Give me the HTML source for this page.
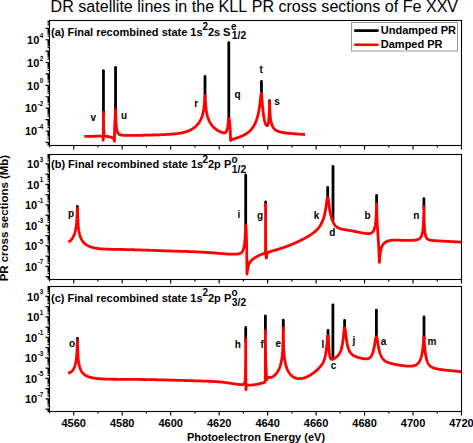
<!DOCTYPE html><html><head><meta charset="utf-8"><style>html,body{margin:0;padding:0;background:#fff;width:473px;height:443px;overflow:hidden}text{font-kerning:none}</style></head><body><svg width="473" height="443" viewBox="0 0 473 443" style="position:absolute;left:0;top:0">
<rect width="473" height="443" fill="#fff"/>
<g>
<text x="50.6" y="11.6" style="font-family:'Liberation Sans',sans-serif;font-size:16.08px" fill="#000">DR satellite lines in the KLL PR cross sections of Fe XXV</text>
<clipPath id="clipa"><rect x="49.5" y="20.5" width="412.0" height="125.0"/></clipPath>
<g clip-path="url(#clipa)">
<path d="M103.45 70.60V114.20M115.55 67.30V111.60M205.00 76.50V97.50M228.80 42.60V120.50M261.45 81.30V95.40M269.55 100.70V103.60" stroke="#000" stroke-width="2.8" fill="none" stroke-linecap="round"/>
<path d="M84.30 136.32 84.55 136.32 84.80 136.33 85.05 136.33 85.30 136.33 85.55 136.33 85.80 136.33 86.05 136.33 86.30 136.33 86.55 136.34 86.80 136.34 87.05 136.34 87.30 136.34 87.55 136.34 87.80 136.34 88.05 136.34 88.30 136.34 88.55 136.34 88.80 136.34 89.05 136.34 89.30 136.34 89.55 136.33 89.80 136.33 90.05 136.33 90.30 136.33 90.55 136.33 90.80 136.33 91.05 136.32 91.30 136.32 91.55 136.32 91.80 136.31 92.05 136.31 92.30 136.31 92.55 136.30 92.80 136.30 93.05 136.29 93.30 136.29 93.55 136.28 93.80 136.28 94.05 136.27 94.30 136.27 94.55 136.26 94.80 136.26 95.05 136.26 95.30 136.25 95.55 136.25 95.80 136.24 96.05 136.24 96.30 136.23 96.55 136.23 96.80 136.22 97.05 136.22 97.30 136.21 97.55 136.21 97.80 136.21 98.05 136.20 98.30 136.20 98.55 136.19 98.80 136.19 99.05 136.19 99.30 136.19 99.55 136.19 99.80 136.18 100.05 136.18 100.30 136.18 100.55 136.18 100.80 136.18 101.05 136.19 101.30 136.19 101.45 136.19 101.55 136.19 101.70 136.20 101.80 136.20 101.95 136.21 102.05 136.21 102.20 136.23 102.30 136.24 102.45 136.27 102.55 136.30 102.60 136.32 102.75 136.43 102.80 136.50 102.85 136.59 102.95 136.91 103.00 137.21 103.05 137.70 103.10 138.47 103.15 139.49 103.20 140.07 103.25 139.49 103.30 138.47 103.35 137.69 103.40 137.14 103.45 112.21 103.55 121.91 103.65 127.51 103.80 131.44 103.95 133.30 104.05 134.02 104.15 134.52 104.20 134.71 104.30 135.01 104.45 135.33 104.55 135.48 104.70 135.65 104.80 135.74 104.95 135.84 105.05 135.90 105.30 136.01 105.45 136.06 105.55 136.09 105.80 136.15 106.05 136.21 106.30 136.26 106.55 136.30 106.80 136.35 107.05 136.39 107.30 136.44 107.55 136.48 107.80 136.53 108.05 136.58 108.30 136.63 108.55 136.68 108.80 136.73 109.05 136.78 109.30 136.84 109.55 136.90 109.80 136.96 110.05 137.02 110.30 137.08 110.55 137.15 110.80 137.21 111.05 137.28 111.30 137.35 111.55 137.43 111.80 137.51 112.05 137.59 112.30 137.68 112.55 137.79 112.80 137.91 112.90 137.97 113.05 138.06 113.30 138.26 113.40 138.36 113.55 138.54 113.80 138.95 114.05 139.57 114.20 140.13 114.30 140.60 114.35 140.88 114.40 141.20 114.45 139.85 114.50 137.10 114.55 134.02 114.60 131.25 114.75 125.57 114.80 124.26 114.85 123.11 115.00 120.07 115.05 119.10 115.20 116.06 115.30 113.86 115.35 112.72 115.40 111.62 115.45 110.64 115.55 109.61 115.65 111.90 115.75 115.42 115.80 116.96 115.90 119.53 116.05 122.43 116.25 125.18 116.30 125.73 116.55 127.94 116.80 129.52 117.05 130.68 117.30 131.56 117.55 132.24 117.80 132.78 118.05 133.20 118.30 133.54 118.55 133.81 118.80 134.04 119.05 134.23 119.30 134.38 119.55 134.52 119.80 134.63 120.05 134.72 120.30 134.81 120.55 134.88 120.80 134.94 121.05 134.99 121.30 135.04 121.55 135.08 121.80 135.11 122.05 135.15 122.30 135.17 122.55 135.20 122.80 135.22 123.05 135.24 123.30 135.26 123.55 135.28 123.80 135.29 124.05 135.31 124.30 135.32 124.55 135.33 124.80 135.34 125.05 135.35 125.30 135.36 125.55 135.37 125.80 135.38 126.05 135.38 126.30 135.39 126.55 135.39 126.80 135.40 127.05 135.40 127.30 135.40 127.55 135.41 127.80 135.41 128.05 135.41 128.30 135.41 128.55 135.41 128.80 135.41 129.05 135.42 129.30 135.42 129.55 135.42 129.80 135.42 130.05 135.42 130.30 135.42 130.55 135.42 130.80 135.41 131.05 135.41 131.30 135.41 131.55 135.41 131.80 135.41 132.05 135.41 132.30 135.41 132.55 135.40 132.80 135.40 133.05 135.40 133.30 135.40 133.55 135.40 133.80 135.39 134.05 135.39 134.30 135.39 134.55 135.39 134.80 135.38 135.05 135.38 135.30 135.38 135.55 135.37 135.80 135.37 136.05 135.37 136.30 135.36 136.55 135.36 136.80 135.36 137.05 135.35 137.30 135.35 137.55 135.35 137.80 135.34 138.05 135.34 138.30 135.34 138.55 135.33 138.80 135.33 139.05 135.32 139.30 135.32 139.55 135.32 139.80 135.31 140.05 135.31 140.30 135.30 140.55 135.30 140.80 135.29 141.05 135.29 141.30 135.28 141.55 135.28 141.80 135.27 142.05 135.27 142.30 135.27 142.55 135.26 142.80 135.26 143.05 135.25 143.30 135.25 143.55 135.24 143.80 135.24 144.05 135.23 144.30 135.23 144.55 135.22 144.80 135.21 145.05 135.21 145.30 135.20 145.55 135.20 145.80 135.19 146.05 135.19 146.30 135.18 146.55 135.18 146.80 135.17 147.05 135.16 147.30 135.16 147.55 135.15 147.80 135.14 148.05 135.14 148.30 135.13 148.55 135.13 148.80 135.12 149.05 135.11 149.30 135.11 149.55 135.10 149.80 135.09 150.05 135.08 150.30 135.08 150.55 135.07 150.80 135.06 151.05 135.06 151.30 135.05 151.55 135.04 151.80 135.03 152.05 135.03 152.30 135.02 152.55 135.01 152.80 135.00 153.05 134.99 153.30 134.99 153.55 134.98 153.80 134.97 154.05 134.96 154.30 134.95 154.55 134.95 154.80 134.94 155.05 134.93 155.30 134.92 155.55 134.91 155.80 134.90 156.05 134.89 156.30 134.89 156.55 134.88 156.80 134.87 157.05 134.86 157.30 134.85 157.55 134.84 157.80 134.83 158.05 134.82 158.30 134.82 158.55 134.81 158.80 134.80 159.05 134.79 159.30 134.78 159.55 134.77 159.80 134.76 160.05 134.75 160.30 134.74 160.55 134.73 160.80 134.72 161.05 134.71 161.30 134.70 161.55 134.69 161.80 134.68 162.05 134.67 162.30 134.66 162.55 134.65 162.80 134.64 163.05 134.63 163.30 134.62 163.55 134.60 163.80 134.59 164.05 134.58 164.30 134.57 164.55 134.56 164.80 134.55 165.05 134.54 165.30 134.52 165.55 134.51 165.80 134.50 166.05 134.49 166.30 134.48 166.55 134.46 166.80 134.45 167.05 134.44 167.30 134.43 167.55 134.41 167.80 134.40 168.05 134.39 168.30 134.37 168.55 134.36 168.80 134.34 169.05 134.33 169.30 134.31 169.55 134.30 169.80 134.28 170.05 134.26 170.30 134.25 170.55 134.23 170.80 134.21 171.05 134.20 171.30 134.18 171.55 134.16 171.80 134.14 172.05 134.12 172.30 134.10 172.55 134.08 172.80 134.06 173.05 134.04 173.30 134.02 173.55 134.00 173.80 133.98 174.05 133.95 174.30 133.93 174.55 133.91 174.80 133.88 175.05 133.86 175.30 133.83 175.55 133.81 175.80 133.78 176.05 133.75 176.30 133.72 176.55 133.70 176.80 133.67 177.05 133.64 177.30 133.60 177.55 133.57 177.80 133.54 178.05 133.50 178.30 133.47 178.55 133.43 178.80 133.39 179.05 133.36 179.30 133.32 179.55 133.28 179.80 133.24 180.05 133.19 180.30 133.15 180.55 133.11 180.80 133.06 181.05 133.01 181.30 132.97 181.55 132.92 181.80 132.87 182.05 132.81 182.30 132.76 182.55 132.71 182.80 132.65 183.05 132.59 183.30 132.53 183.55 132.47 183.80 132.41 184.05 132.35 184.30 132.28 184.55 132.21 184.80 132.14 185.05 132.07 185.30 132.00 185.55 131.92 185.80 131.85 186.05 131.77 186.30 131.68 186.55 131.60 186.80 131.52 187.05 131.43 187.30 131.34 187.55 131.24 187.80 131.15 188.05 131.05 188.30 130.95 188.55 130.85 188.80 130.74 189.05 130.64 189.30 130.53 189.55 130.41 189.80 130.30 190.05 130.18 190.30 130.06 190.55 129.93 190.80 129.80 191.05 129.67 191.30 129.53 191.55 129.39 191.80 129.25 192.05 129.10 192.30 128.95 192.55 128.80 192.80 128.64 193.05 128.47 193.30 128.31 193.55 128.13 193.80 127.96 194.05 127.77 194.30 127.58 194.55 127.39 194.80 127.19 195.05 126.98 195.30 126.77 195.55 126.55 195.80 126.33 196.05 126.10 196.30 125.85 196.55 125.61 196.80 125.35 197.05 125.08 197.30 124.81 197.55 124.52 197.80 124.22 198.05 123.92 198.30 123.60 198.55 123.26 198.80 122.92 199.05 122.55 199.30 122.17 199.55 121.78 199.80 121.36 200.05 120.92 200.30 120.46 200.55 119.97 200.80 119.45 201.05 118.90 201.30 118.32 201.55 117.69 201.80 117.02 202.05 116.29 202.30 115.50 202.55 114.63 202.80 113.67 203.00 112.83 203.05 112.60 203.30 111.39 203.50 110.30 203.55 110.01 203.80 108.39 204.00 106.86 204.05 106.44 204.30 104.04 204.50 101.67 204.55 101.00 204.65 99.58 204.80 97.36 204.90 96.09 205.00 95.50 205.05 95.73 205.10 96.28 205.20 97.87 205.30 99.62 205.35 100.46 205.50 102.76 205.55 103.45 205.70 105.28 205.80 106.35 206.00 108.21 206.05 108.62 206.30 110.46 206.50 111.71 206.55 112.00 206.80 113.32 207.00 114.26 207.05 114.48 207.30 115.51 207.55 116.43 207.80 117.27 208.05 118.04 208.30 118.74 208.55 119.40 208.80 120.01 209.05 120.58 209.30 121.11 209.55 121.62 209.80 122.10 210.05 122.55 210.30 122.98 210.55 123.38 210.80 123.77 211.05 124.15 211.30 124.50 211.55 124.85 211.80 125.17 212.05 125.49 212.30 125.79 212.55 126.08 212.80 126.37 213.05 126.64 213.30 126.90 213.55 127.16 213.80 127.40 214.05 127.64 214.30 127.87 214.55 128.09 214.80 128.31 215.05 128.52 215.30 128.73 215.55 128.92 215.80 129.12 216.05 129.30 216.30 129.49 216.55 129.66 216.80 129.83 217.05 130.00 217.30 130.16 217.55 130.32 217.80 130.47 218.05 130.62 218.30 130.77 218.55 130.91 218.80 131.04 219.05 131.18 219.30 131.30 219.55 131.43 219.80 131.55 220.05 131.66 220.30 131.78 220.55 131.88 220.80 131.99 221.05 132.09 221.30 132.18 221.55 132.27 221.80 132.36 222.05 132.44 222.30 132.51 222.55 132.58 222.80 132.64 223.05 132.70 223.30 132.74 223.55 132.78 223.80 132.80 224.05 132.82 224.30 132.81 224.55 132.79 224.80 132.75 225.05 132.69 225.30 132.59 225.55 132.45 225.80 132.26 226.05 132.01 226.30 131.68 226.55 131.25 226.80 130.68 227.05 129.94 227.30 128.97 227.55 127.71 227.80 126.09 228.05 124.02 228.10 123.56 228.30 121.57 228.45 120.08 228.55 119.24 228.60 118.91 228.70 118.47 228.80 118.37 228.90 118.46 229.00 118.64 229.05 118.77 229.10 118.94 229.15 119.12 229.30 119.85 229.50 121.12 229.55 121.48 229.60 121.86 229.80 123.59 230.00 125.84 230.05 126.54 230.25 130.42 230.30 131.79 230.40 135.09 230.50 138.60 230.55 139.89 230.60 140.50 230.65 140.42 230.70 140.35 230.80 140.23 230.95 140.07 231.05 139.98 231.20 139.87 231.30 139.80 231.55 139.66 231.60 139.64 231.80 139.55 232.05 139.46 232.10 139.44 232.30 139.37 232.55 139.29 232.80 139.22 233.05 139.14 233.30 139.07 233.55 138.99 233.80 138.92 234.05 138.84 234.30 138.76 234.55 138.69 234.80 138.61 235.05 138.53 235.30 138.45 235.55 138.36 235.80 138.28 236.05 138.20 236.30 138.12 236.55 138.03 236.80 137.95 237.05 137.86 237.30 137.77 237.55 137.69 237.80 137.60 238.05 137.51 238.30 137.42 238.55 137.33 238.80 137.24 239.05 137.15 239.30 137.05 239.55 136.96 239.80 136.87 240.05 136.77 240.30 136.67 240.55 136.57 240.80 136.47 241.05 136.37 241.30 136.27 241.55 136.16 241.80 136.06 242.05 135.95 242.30 135.84 242.55 135.73 242.80 135.62 243.05 135.50 243.30 135.38 243.55 135.26 243.80 135.14 244.05 135.01 244.30 134.88 244.55 134.75 244.80 134.61 245.05 134.47 245.30 134.33 245.55 134.19 245.80 134.04 246.05 133.89 246.30 133.73 246.55 133.57 246.80 133.40 247.05 133.23 247.30 133.06 247.55 132.88 247.80 132.70 248.05 132.51 248.30 132.31 248.55 132.11 248.80 131.90 249.05 131.69 249.30 131.47 249.55 131.24 249.80 131.01 250.05 130.76 250.30 130.51 250.55 130.26 250.80 129.99 251.05 129.71 251.30 129.43 251.55 129.13 251.80 128.82 252.05 128.50 252.30 128.17 252.55 127.83 252.80 127.48 253.05 127.11 253.30 126.73 253.55 126.33 253.80 125.91 254.05 125.48 254.30 125.03 254.55 124.56 254.80 124.07 255.05 123.56 255.30 123.03 255.55 122.47 255.80 121.88 256.05 121.26 256.30 120.61 256.55 119.93 256.80 119.21 257.05 118.44 257.30 117.63 257.55 116.76 257.80 115.84 258.05 114.85 258.30 113.78 258.55 112.63 258.80 111.38 259.05 110.02 259.30 108.51 259.45 107.54 259.55 106.85 259.80 105.00 259.95 103.79 260.05 102.93 260.30 100.65 260.45 99.19 260.55 98.20 260.75 96.30 260.80 95.85 260.95 94.70 261.05 94.13 261.10 93.91 261.25 93.51 261.30 93.45 261.35 93.42 261.45 93.40 261.55 93.47 261.65 93.87 261.80 95.40 261.95 97.72 262.05 99.40 262.15 101.04 262.30 103.33 262.45 105.39 262.55 106.64 262.80 109.39 262.95 110.83 263.05 111.71 263.30 113.71 263.45 114.78 263.55 115.45 263.80 116.97 264.05 118.33 264.30 119.54 264.55 120.61 264.80 121.57 265.05 122.42 265.30 123.17 265.55 123.82 265.80 124.37 266.05 124.83 266.30 125.19 266.55 125.44 266.80 125.58 267.05 125.60 267.30 125.49 267.55 125.21 267.80 124.76 268.05 124.07 268.30 123.10 268.55 121.74 268.80 119.81 268.85 119.33 269.05 116.91 269.20 114.31 269.30 111.91 269.35 110.39 269.45 106.31 269.55 101.59 269.65 104.28 269.75 107.40 269.80 108.71 269.90 110.89 270.05 113.40 270.25 115.86 270.30 116.37 270.55 118.50 270.80 120.14 271.05 121.46 271.30 122.56 271.55 123.49 271.80 124.30 272.05 125.00 272.30 125.62 272.55 126.17 272.80 126.67 273.05 127.11 273.30 127.52 273.55 127.89 273.80 128.23 274.05 128.53 274.30 128.82 274.55 129.08 274.80 129.32 275.05 129.55 275.30 129.75 275.55 129.94 275.80 130.12 276.05 130.29 276.30 130.44 276.55 130.59 276.80 130.72 277.05 130.85 277.30 130.97 277.55 131.08 277.80 131.18 278.05 131.28 278.30 131.37 278.55 131.46 278.80 131.55 279.05 131.62 279.30 131.70 279.55 131.77 279.80 131.84 280.05 131.91 280.30 131.97 280.55 132.03 280.80 132.09 281.05 132.15 281.30 132.21 281.55 132.26 281.80 132.31 282.05 132.36 282.30 132.41 282.55 132.46 282.80 132.51 283.05 132.55 283.30 132.59 283.55 132.63 283.80 132.67 284.05 132.71 284.30 132.75 284.55 132.79 284.80 132.82 285.05 132.85 285.30 132.89 285.55 132.92 285.80 132.95 286.05 132.98 286.30 133.01 286.55 133.04 286.80 133.07 287.05 133.09 287.30 133.12 287.55 133.14 287.80 133.17 288.05 133.19 288.30 133.22 288.55 133.24 288.80 133.26 289.05 133.28 289.30 133.31 289.55 133.33 289.80 133.35 290.05 133.37 290.30 133.39 290.55 133.41 290.80 133.44 291.05 133.46 291.30 133.48 291.55 133.50 291.80 133.52 292.05 133.54 292.30 133.57 292.55 133.59 292.80 133.61 293.05 133.63 293.30 133.65 293.55 133.67 293.80 133.70 294.05 133.72 294.30 133.74 294.55 133.76 294.80 133.78 295.05 133.80 295.30 133.82 295.55 133.84 295.80 133.86 296.05 133.88 296.30 133.90 296.55 133.92 296.80 133.94 297.05 133.96 297.30 133.98 297.55 134.00 297.80 134.01 298.05 134.03 298.30 134.05 298.55 134.07 298.80 134.09 299.05 134.11 299.30 134.13 299.55 134.14 299.80 134.16 300.05 134.18 300.30 134.20 300.55 134.22 300.80 134.24 301.05 134.26 301.30 134.27 301.55 134.29 301.80 134.31 302.05 134.33 302.30 134.35 302.55 134.37 302.80 134.38 303.05 134.40 303.30 134.42 303.55 134.44 303.80 134.46 304.05 134.48 304.30 134.50 304.55 134.52 304.80 134.53 305.00 134.55" stroke="#f00" stroke-width="2.8" fill="none" stroke-linejoin="round" stroke-linecap="butt"/>
</g>
<rect x="49.5" y="20.5" width="412.0" height="125.0" fill="none" stroke="#000" stroke-width="1.1"/>
<path d="M47.50 144.93H49.5M47.50 144.17H49.5M47.50 143.51H49.5M47.50 142.92H49.5M45.50 142.40H49.5M47.50 138.97H49.5M47.50 136.96H49.5M47.50 135.53H49.5M47.50 134.42H49.5M47.50 133.52H49.5M47.50 132.76H49.5M47.50 132.10H49.5M47.50 131.51H49.5M45.50 130.99H49.5M47.50 127.56H49.5M47.50 125.55H49.5M47.50 124.12H49.5M47.50 123.01H49.5M47.50 122.11H49.5M47.50 121.35H49.5M47.50 120.69H49.5M47.50 120.10H49.5M45.50 119.58H49.5M47.50 116.15H49.5M47.50 114.14H49.5M47.50 112.71H49.5M47.50 111.60H49.5M47.50 110.70H49.5M47.50 109.94H49.5M47.50 109.28H49.5M47.50 108.69H49.5M45.50 108.17H49.5M47.50 104.74H49.5M47.50 102.73H49.5M47.50 101.30H49.5M47.50 100.19H49.5M47.50 99.29H49.5M47.50 98.53H49.5M47.50 97.87H49.5M47.50 97.28H49.5M45.50 96.76H49.5M47.50 93.33H49.5M47.50 91.32H49.5M47.50 89.89H49.5M47.50 88.78H49.5M47.50 87.88H49.5M47.50 87.12H49.5M47.50 86.46H49.5M47.50 85.87H49.5M45.50 85.35H49.5M47.50 81.92H49.5M47.50 79.91H49.5M47.50 78.48H49.5M47.50 77.37H49.5M47.50 76.47H49.5M47.50 75.71H49.5M47.50 75.05H49.5M47.50 74.46H49.5M45.50 73.94H49.5M47.50 70.51H49.5M47.50 68.50H49.5M47.50 67.07H49.5M47.50 65.96H49.5M47.50 65.06H49.5M47.50 64.30H49.5M47.50 63.64H49.5M47.50 63.05H49.5M45.50 62.53H49.5M47.50 59.10H49.5M47.50 57.09H49.5M47.50 55.66H49.5M47.50 54.55H49.5M47.50 53.65H49.5M47.50 52.89H49.5M47.50 52.23H49.5M47.50 51.64H49.5M45.50 51.12H49.5M47.50 47.69H49.5M47.50 45.68H49.5M47.50 44.25H49.5M47.50 43.14H49.5M47.50 42.24H49.5M47.50 41.48H49.5M47.50 40.82H49.5M47.50 40.23H49.5M45.50 39.71H49.5M47.50 36.28H49.5M47.50 34.27H49.5M47.50 32.84H49.5M47.50 31.73H49.5M47.50 30.83H49.5M47.50 30.07H49.5M47.50 29.41H49.5M47.50 28.82H49.5M45.50 28.30H49.5M47.50 24.87H49.5M47.50 22.86H49.5M47.50 21.43H49.5" stroke="#000" stroke-width="1.15" fill="none"/>
<path d="M49.50 145.5V147.5M73.74 145.5V149.5M97.97 145.5V147.5M122.21 145.5V149.5M146.44 145.5V147.5M170.68 145.5V149.5M194.91 145.5V147.5M219.15 145.5V149.5M243.38 145.5V147.5M267.62 145.5V149.5M291.85 145.5V147.5M316.09 145.5V149.5M340.32 145.5V147.5M364.56 145.5V149.5M388.79 145.5V147.5M413.03 145.5V149.5M437.26 145.5V147.5M461.50 145.5V149.5" stroke="#000" stroke-width="1.15" fill="none"/>
<text x="43.3" y="43.91" text-anchor="end" style="font-family:'Liberation Sans',sans-serif;font-size:11px;font-weight:bold">10<tspan font-size="6.3px" dy="-6.2" dx="0.5">4</tspan></text>
<text x="43.3" y="66.73" text-anchor="end" style="font-family:'Liberation Sans',sans-serif;font-size:11px;font-weight:bold">10<tspan font-size="6.3px" dy="-6.2" dx="0.5">2</tspan></text>
<text x="43.3" y="89.55" text-anchor="end" style="font-family:'Liberation Sans',sans-serif;font-size:11px;font-weight:bold">10<tspan font-size="6.3px" dy="-6.2" dx="0.5">0</tspan></text>
<text x="43.3" y="112.37" text-anchor="end" style="font-family:'Liberation Sans',sans-serif;font-size:11px;font-weight:bold">10<tspan font-size="6.3px" dy="-6.2" dx="0.5">-2</tspan></text>
<text x="43.3" y="135.19" text-anchor="end" style="font-family:'Liberation Sans',sans-serif;font-size:11px;font-weight:bold">10<tspan font-size="6.3px" dy="-6.2" dx="0.5">-4</tspan></text>
<clipPath id="clipb"><rect x="49.5" y="154.5" width="412.0" height="125.0"/></clipPath>
<g clip-path="url(#clipb)">
<path d="M77.40 206.40V210.20M245.70 174.90V227.30M265.60 202.00V206.00M327.70 187.40V199.60M376.60 195.40V205.30M423.90 198.60V208.80M333.00 166.40V220.00" stroke="#000" stroke-width="2.8" fill="none" stroke-linecap="round"/>
<path d="M68.40 242.00 68.65 241.86 68.90 241.71 69.15 241.56 69.40 241.39 69.65 241.21 69.90 241.02 70.15 240.82 70.40 240.60 70.65 240.37 70.90 240.13 71.15 239.86 71.40 239.58 71.65 239.29 71.90 238.97 72.15 238.62 72.40 238.26 72.65 237.87 72.90 237.45 73.15 237.00 73.40 236.51 73.65 235.99 73.90 235.42 74.15 234.80 74.40 234.12 74.65 233.38 74.90 232.56 75.15 231.65 75.40 230.63 75.65 229.46 75.90 228.11 76.15 226.50 76.40 224.55 76.65 222.06 76.70 221.47 76.90 218.66 77.05 215.88 77.15 213.56 77.20 212.26 77.30 209.59 77.40 208.20 77.50 210.50 77.60 214.08 77.65 215.63 77.75 218.22 77.90 221.18 78.10 224.08 78.15 224.68 78.40 227.20 78.65 229.17 78.90 230.77 79.15 232.12 79.40 233.28 79.65 234.29 79.90 235.19 80.15 236.00 80.40 236.73 80.65 237.39 80.90 238.00 81.15 238.56 81.40 239.08 81.65 239.56 81.90 240.00 82.15 240.42 82.40 240.81 82.65 241.17 82.90 241.52 83.15 241.84 83.40 242.15 83.65 242.43 83.90 242.71 84.15 242.97 84.40 243.21 84.65 243.44 84.90 243.66 85.15 243.88 85.40 244.08 85.65 244.27 85.90 244.45 86.15 244.63 86.40 244.80 86.65 244.96 86.90 245.12 87.15 245.27 87.40 245.41 87.65 245.55 87.90 245.68 88.15 245.81 88.40 245.93 88.65 246.05 88.90 246.17 89.15 246.28 89.40 246.38 89.65 246.49 89.90 246.59 90.15 246.68 90.40 246.78 90.65 246.87 90.90 246.95 91.15 247.04 91.40 247.12 91.65 247.19 91.90 247.27 92.15 247.34 92.40 247.41 92.65 247.48 92.90 247.54 93.15 247.60 93.40 247.67 93.65 247.73 93.90 247.78 94.15 247.84 94.40 247.90 94.65 247.95 94.90 248.00 95.15 248.05 95.40 248.10 95.65 248.15 95.90 248.20 96.15 248.24 96.40 248.29 96.65 248.33 96.90 248.37 97.15 248.41 97.40 248.45 97.65 248.49 97.90 248.52 98.15 248.56 98.40 248.59 98.65 248.62 98.90 248.66 99.15 248.69 99.40 248.71 99.65 248.74 99.90 248.77 100.15 248.79 100.40 248.81 100.65 248.84 100.90 248.86 101.15 248.88 101.40 248.90 101.65 248.92 101.90 248.93 102.15 248.95 102.40 248.97 102.65 248.98 102.90 249.00 103.15 249.01 103.40 249.03 103.65 249.04 103.90 249.05 104.15 249.07 104.40 249.08 104.65 249.09 104.90 249.10 105.15 249.11 105.40 249.12 105.65 249.13 105.90 249.14 106.15 249.15 106.40 249.16 106.65 249.17 106.90 249.18 107.15 249.18 107.40 249.19 107.65 249.20 107.90 249.21 108.15 249.22 108.40 249.22 108.65 249.23 108.90 249.24 109.15 249.25 109.40 249.25 109.65 249.26 109.90 249.27 110.15 249.27 110.40 249.28 110.65 249.28 110.90 249.29 111.15 249.29 111.40 249.30 111.65 249.30 111.90 249.31 112.15 249.31 112.40 249.32 112.65 249.32 112.90 249.33 113.15 249.33 113.40 249.34 113.65 249.34 113.90 249.34 114.15 249.35 114.40 249.35 114.65 249.36 114.90 249.36 115.15 249.37 115.40 249.37 115.65 249.37 115.90 249.38 116.15 249.38 116.40 249.39 116.65 249.39 116.90 249.40 117.15 249.40 117.40 249.41 117.65 249.41 117.90 249.42 118.15 249.42 118.40 249.43 118.65 249.43 118.90 249.44 119.15 249.44 119.40 249.44 119.65 249.45 119.90 249.45 120.15 249.46 120.40 249.46 120.65 249.47 120.90 249.47 121.15 249.47 121.40 249.48 121.65 249.48 121.90 249.49 122.15 249.49 122.40 249.50 122.65 249.50 122.90 249.50 123.15 249.51 123.40 249.51 123.65 249.52 123.90 249.52 124.15 249.52 124.40 249.53 124.65 249.53 124.90 249.54 125.15 249.54 125.40 249.54 125.65 249.55 125.90 249.55 126.15 249.56 126.40 249.56 126.65 249.57 126.90 249.57 127.15 249.58 127.40 249.59 127.65 249.59 127.90 249.60 128.15 249.60 128.40 249.61 128.65 249.61 128.90 249.62 129.15 249.63 129.40 249.63 129.65 249.64 129.90 249.65 130.15 249.65 130.40 249.66 130.65 249.67 130.90 249.67 131.15 249.68 131.40 249.69 131.65 249.69 131.90 249.70 132.15 249.70 132.40 249.71 132.65 249.72 132.90 249.72 133.15 249.73 133.40 249.74 133.65 249.74 133.90 249.75 134.15 249.76 134.40 249.77 134.65 249.77 134.90 249.78 135.15 249.79 135.40 249.80 135.65 249.80 135.90 249.81 136.15 249.82 136.40 249.83 136.65 249.83 136.90 249.84 137.15 249.85 137.40 249.86 137.65 249.87 137.90 249.88 138.15 249.88 138.40 249.89 138.65 249.90 138.90 249.91 139.15 249.92 139.40 249.93 139.65 249.93 139.90 249.94 140.15 249.95 140.40 249.96 140.65 249.97 140.90 249.98 141.15 249.98 141.40 249.99 141.65 250.00 141.90 250.01 142.15 250.02 142.40 250.03 142.65 250.04 142.90 250.04 143.15 250.05 143.40 250.06 143.65 250.07 143.90 250.08 144.15 250.09 144.40 250.10 144.65 250.11 144.90 250.12 145.15 250.13 145.40 250.13 145.65 250.14 145.90 250.15 146.15 250.16 146.40 250.17 146.65 250.18 146.90 250.19 147.15 250.20 147.40 250.21 147.65 250.22 147.90 250.23 148.15 250.24 148.40 250.24 148.65 250.25 148.90 250.26 149.15 250.27 149.40 250.28 149.65 250.29 149.90 250.30 150.15 250.31 150.40 250.32 150.65 250.33 150.90 250.34 151.15 250.35 151.40 250.35 151.65 250.36 151.90 250.37 152.15 250.38 152.40 250.39 152.65 250.40 152.90 250.41 153.15 250.42 153.40 250.43 153.65 250.44 153.90 250.45 154.15 250.46 154.40 250.47 154.65 250.48 154.90 250.48 155.15 250.49 155.40 250.50 155.65 250.51 155.90 250.52 156.15 250.53 156.40 250.54 156.65 250.55 156.90 250.56 157.15 250.56 157.40 250.57 157.65 250.58 157.90 250.59 158.15 250.60 158.40 250.61 158.65 250.61 158.90 250.62 159.15 250.63 159.40 250.64 159.65 250.65 159.90 250.66 160.15 250.66 160.40 250.67 160.65 250.68 160.90 250.69 161.15 250.70 161.40 250.71 161.65 250.71 161.90 250.72 162.15 250.73 162.40 250.74 162.65 250.75 162.90 250.75 163.15 250.76 163.40 250.77 163.65 250.78 163.90 250.79 164.15 250.79 164.40 250.80 164.65 250.81 164.90 250.82 165.15 250.82 165.40 250.83 165.65 250.84 165.90 250.85 166.15 250.86 166.40 250.86 166.65 250.87 166.90 250.88 167.15 250.89 167.40 250.89 167.65 250.90 167.90 250.91 168.15 250.92 168.40 250.92 168.65 250.93 168.90 250.94 169.15 250.94 169.40 250.95 169.65 250.96 169.90 250.97 170.15 250.97 170.40 250.98 170.65 250.99 170.90 251.00 171.15 251.00 171.40 251.01 171.65 251.02 171.90 251.03 172.15 251.03 172.40 251.04 172.65 251.05 172.90 251.06 173.15 251.06 173.40 251.07 173.65 251.08 173.90 251.09 174.15 251.09 174.40 251.10 174.65 251.11 174.90 251.12 175.15 251.12 175.40 251.13 175.65 251.14 175.90 251.15 176.15 251.15 176.40 251.16 176.65 251.17 176.90 251.18 177.15 251.18 177.40 251.19 177.65 251.20 177.90 251.21 178.15 251.21 178.40 251.22 178.65 251.23 178.90 251.24 179.15 251.24 179.40 251.25 179.65 251.26 179.90 251.27 180.15 251.28 180.40 251.28 180.65 251.29 180.90 251.30 181.15 251.31 181.40 251.31 181.65 251.32 181.90 251.33 182.15 251.34 182.40 251.35 182.65 251.35 182.90 251.36 183.15 251.37 183.40 251.38 183.65 251.39 183.90 251.39 184.15 251.40 184.40 251.41 184.65 251.42 184.90 251.43 185.15 251.44 185.40 251.44 185.65 251.45 185.90 251.46 186.15 251.47 186.40 251.48 186.65 251.49 186.90 251.50 187.15 251.50 187.40 251.51 187.65 251.52 187.90 251.53 188.15 251.54 188.40 251.55 188.65 251.56 188.90 251.57 189.15 251.58 189.40 251.59 189.65 251.60 189.90 251.61 190.15 251.62 190.40 251.63 190.65 251.64 190.90 251.64 191.15 251.65 191.40 251.66 191.65 251.67 191.90 251.69 192.15 251.70 192.40 251.71 192.65 251.72 192.90 251.73 193.15 251.74 193.40 251.75 193.65 251.76 193.90 251.77 194.15 251.78 194.40 251.79 194.65 251.80 194.90 251.81 195.15 251.83 195.40 251.84 195.65 251.85 195.90 251.86 196.15 251.87 196.40 251.88 196.65 251.89 196.90 251.91 197.15 251.92 197.40 251.93 197.65 251.94 197.90 251.96 198.15 251.97 198.40 251.98 198.65 251.99 198.90 252.01 199.15 252.02 199.40 252.03 199.65 252.05 199.90 252.06 200.15 252.07 200.40 252.09 200.65 252.10 200.90 252.11 201.15 252.13 201.40 252.14 201.65 252.16 201.90 252.17 202.15 252.19 202.40 252.20 202.65 252.21 202.90 252.23 203.15 252.24 203.40 252.26 203.65 252.27 203.90 252.29 204.15 252.30 204.40 252.32 204.65 252.34 204.90 252.35 205.15 252.37 205.40 252.38 205.65 252.40 205.90 252.41 206.15 252.43 206.40 252.45 206.65 252.46 206.90 252.48 207.15 252.50 207.40 252.51 207.65 252.53 207.90 252.55 208.15 252.57 208.40 252.58 208.65 252.60 208.90 252.62 209.15 252.64 209.40 252.65 209.65 252.67 209.90 252.69 210.15 252.71 210.40 252.73 210.65 252.75 210.90 252.76 211.15 252.78 211.40 252.80 211.65 252.82 211.90 252.84 212.15 252.86 212.40 252.87 212.65 252.89 212.90 252.91 213.15 252.93 213.40 252.95 213.65 252.97 213.90 252.99 214.15 253.01 214.40 253.02 214.65 253.04 214.90 253.06 215.15 253.08 215.40 253.10 215.65 253.12 215.90 253.14 216.15 253.16 216.40 253.18 216.65 253.20 216.90 253.22 217.15 253.24 217.40 253.26 217.65 253.28 217.90 253.30 218.15 253.32 218.40 253.34 218.65 253.36 218.90 253.38 219.15 253.40 219.40 253.42 219.65 253.43 219.90 253.45 220.15 253.47 220.40 253.49 220.65 253.51 220.90 253.53 221.15 253.55 221.40 253.57 221.65 253.59 221.90 253.60 222.15 253.62 222.40 253.64 222.65 253.66 222.90 253.68 223.15 253.70 223.40 253.71 223.65 253.73 223.90 253.75 224.15 253.77 224.40 253.79 224.65 253.80 224.90 253.82 225.15 253.84 225.40 253.86 225.65 253.87 225.90 253.89 226.15 253.91 226.40 253.92 226.65 253.94 226.90 253.95 227.15 253.97 227.40 253.98 227.65 254.00 227.90 254.01 228.15 254.02 228.40 254.04 228.65 254.05 228.90 254.06 229.15 254.07 229.40 254.09 229.65 254.10 229.90 254.11 230.15 254.12 230.40 254.13 230.65 254.14 230.90 254.15 231.15 254.16 231.40 254.17 231.65 254.17 231.90 254.18 232.15 254.19 232.40 254.19 232.65 254.20 232.90 254.20 233.15 254.20 233.40 254.21 233.65 254.21 233.90 254.21 234.15 254.21 234.40 254.21 234.65 254.20 234.90 254.20 235.15 254.19 235.40 254.18 235.65 254.17 235.90 254.16 236.15 254.15 236.40 254.13 236.65 254.11 236.90 254.09 237.15 254.07 237.40 254.04 237.65 254.01 237.90 253.98 238.15 253.94 238.40 253.90 238.65 253.85 238.90 253.80 239.15 253.73 239.40 253.66 239.65 253.59 239.90 253.50 240.15 253.40 240.40 253.28 240.65 253.15 240.90 253.00 241.15 252.83 241.40 252.63 241.65 252.41 241.90 252.14 242.15 251.84 242.40 251.48 242.65 251.06 242.90 250.57 243.15 249.99 243.40 249.30 243.65 248.47 243.70 248.29 243.90 247.48 244.15 246.27 244.20 246.00 244.40 244.77 244.65 242.89 244.70 242.45 244.90 240.43 245.00 239.22 245.15 237.04 245.20 236.19 245.35 233.15 245.40 231.92 245.50 229.16 245.60 226.38 245.65 225.52 245.70 225.33 245.80 225.72 245.90 226.56 246.00 227.82 246.05 228.58 246.15 230.30 246.20 231.24 246.40 235.79 246.65 245.60 246.70 248.83 246.80 257.40 246.90 267.94 246.95 272.15 247.00 274.00 247.05 273.49 247.10 273.01 247.15 272.56 247.20 272.12 247.35 270.93 247.40 270.57 247.60 269.27 247.65 268.98 247.70 268.70 247.90 267.69 248.00 267.24 248.15 266.62 248.40 265.72 248.50 265.39 248.65 264.95 248.90 264.29 249.15 263.71 249.40 263.20 249.65 262.75 249.90 262.35 250.15 261.98 250.40 261.64 250.65 261.33 250.90 261.04 251.15 260.77 251.40 260.51 251.65 260.27 251.90 260.04 252.15 259.82 252.40 259.60 252.65 259.40 252.90 259.20 253.15 259.01 253.40 258.82 253.65 258.63 253.90 258.45 254.15 258.28 254.40 258.11 254.65 257.94 254.90 257.77 255.15 257.61 255.40 257.45 255.65 257.30 255.90 257.15 256.15 257.00 256.40 256.85 256.65 256.70 256.90 256.56 257.15 256.42 257.40 256.28 257.65 256.15 257.90 256.01 258.15 255.88 258.40 255.76 258.65 255.63 258.90 255.51 259.15 255.39 259.40 255.27 259.65 255.15 259.90 255.04 260.15 254.93 260.40 254.82 260.65 254.71 260.90 254.60 261.15 254.50 261.40 254.40 261.65 254.30 261.90 254.20 262.15 254.11 262.40 254.01 262.65 253.92 262.90 253.83 263.15 253.75 263.40 253.66 263.60 253.60 263.65 253.58 263.90 253.51 264.10 253.45 264.15 253.44 264.40 253.38 264.60 253.34 264.65 253.33 264.70 253.32 264.90 253.28 265.10 253.22 265.15 253.19 265.20 253.14 265.25 253.07 265.40 252.33 265.50 249.78 265.60 204.17 265.65 235.06 265.70 241.41 265.80 247.68 265.85 249.69 265.90 251.36 265.95 252.84 266.00 254.21 266.10 256.54 266.15 257.36 266.20 257.80 266.25 257.96 266.30 257.99 266.40 257.73 266.55 256.91 266.60 256.59 266.65 256.27 266.80 255.40 266.90 254.91 267.10 254.15 267.15 254.00 267.20 253.86 267.40 253.41 267.60 253.08 267.65 253.01 267.70 252.95 267.90 252.73 268.15 252.51 268.40 252.34 268.65 252.20 268.90 252.08 269.15 251.96 269.40 251.86 269.65 251.77 269.90 251.68 270.15 251.60 270.40 251.52 270.65 251.44 270.90 251.36 271.15 251.28 271.40 251.21 271.65 251.14 271.90 251.06 272.15 250.99 272.40 250.92 272.65 250.85 272.90 250.77 273.15 250.70 273.40 250.63 273.65 250.56 273.90 250.49 274.15 250.42 274.40 250.35 274.65 250.28 274.90 250.21 275.15 250.14 275.40 250.06 275.65 249.99 275.90 249.92 276.15 249.85 276.40 249.78 276.65 249.71 276.90 249.63 277.15 249.56 277.40 249.49 277.65 249.42 277.90 249.34 278.15 249.27 278.40 249.20 278.65 249.12 278.90 249.05 279.15 248.97 279.40 248.89 279.65 248.82 279.90 248.74 280.15 248.66 280.40 248.58 280.65 248.50 280.90 248.42 281.15 248.34 281.40 248.26 281.65 248.18 281.90 248.09 282.15 248.01 282.40 247.93 282.65 247.85 282.90 247.76 283.15 247.68 283.40 247.59 283.65 247.51 283.90 247.42 284.15 247.33 284.40 247.25 284.65 247.16 284.90 247.07 285.15 246.98 285.40 246.89 285.65 246.80 285.90 246.71 286.15 246.62 286.40 246.53 286.65 246.44 286.90 246.35 287.15 246.25 287.40 246.16 287.65 246.06 287.90 245.97 288.15 245.87 288.40 245.78 288.65 245.68 288.90 245.58 289.15 245.48 289.40 245.38 289.65 245.28 289.90 245.18 290.15 245.08 290.40 244.98 290.65 244.88 290.90 244.78 291.15 244.67 291.40 244.57 291.65 244.47 291.90 244.36 292.15 244.26 292.40 244.15 292.65 244.05 292.90 243.94 293.15 243.83 293.40 243.73 293.65 243.62 293.90 243.51 294.15 243.40 294.40 243.29 294.65 243.18 294.90 243.07 295.15 242.96 295.40 242.85 295.65 242.74 295.90 242.62 296.15 242.51 296.40 242.39 296.65 242.28 296.90 242.16 297.15 242.05 297.40 241.93 297.65 241.81 297.90 241.69 298.15 241.57 298.40 241.46 298.65 241.34 298.90 241.22 299.15 241.10 299.40 240.97 299.65 240.85 299.90 240.73 300.15 240.61 300.40 240.49 300.65 240.36 300.90 240.24 301.15 240.11 301.40 239.99 301.65 239.86 301.90 239.74 302.15 239.61 302.40 239.48 302.65 239.35 302.90 239.22 303.15 239.09 303.40 238.96 303.65 238.83 303.90 238.70 304.15 238.57 304.40 238.43 304.65 238.30 304.90 238.16 305.15 238.03 305.40 237.89 305.65 237.75 305.90 237.61 306.15 237.47 306.40 237.33 306.65 237.19 306.90 237.05 307.15 236.91 307.40 236.76 307.65 236.62 307.90 236.47 308.15 236.32 308.40 236.18 308.65 236.03 308.90 235.88 309.15 235.72 309.40 235.57 309.65 235.42 309.90 235.26 310.15 235.10 310.40 234.94 310.65 234.78 310.90 234.62 311.15 234.45 311.40 234.28 311.65 234.11 311.90 233.94 312.15 233.76 312.40 233.59 312.65 233.41 312.90 233.22 313.15 233.04 313.40 232.85 313.65 232.66 313.90 232.46 314.15 232.27 314.40 232.06 314.65 231.86 314.90 231.65 315.15 231.43 315.40 231.22 315.65 230.99 315.90 230.76 316.15 230.53 316.40 230.29 316.65 230.04 316.90 229.79 317.15 229.53 317.40 229.27 317.65 228.99 317.90 228.71 318.15 228.42 318.40 228.12 318.65 227.81 318.90 227.49 319.15 227.15 319.40 226.81 319.65 226.45 319.90 226.08 320.15 225.69 320.40 225.29 320.65 224.87 320.90 224.44 321.15 223.98 321.40 223.50 321.65 223.00 321.90 222.48 322.15 221.93 322.40 221.35 322.65 220.74 322.90 220.10 323.15 219.42 323.40 218.70 323.65 217.93 323.90 217.11 324.15 216.23 324.40 215.29 324.65 214.28 324.90 213.18 325.15 211.99 325.40 210.68 325.65 209.25 325.70 208.95 325.90 207.67 326.15 205.93 326.20 205.57 326.40 204.04 326.65 202.04 326.70 201.64 326.90 200.11 327.00 199.43 327.15 198.58 327.20 198.36 327.35 197.87 327.40 197.77 327.50 197.65 327.60 197.61 327.65 197.60 327.70 197.60 327.80 197.61 327.90 197.66 328.05 197.93 328.15 198.27 328.20 198.50 328.40 199.73 328.65 201.74 328.70 202.17 328.90 203.88 329.15 205.90 329.20 206.29 329.40 207.75 329.65 209.42 329.70 209.73 329.90 210.92 330.15 212.28 330.40 213.51 330.65 214.64 330.90 215.68 331.15 216.63 331.40 217.52 331.65 218.33 331.90 219.09 332.15 219.80 332.40 220.46 332.65 221.07 332.90 221.65 333.15 222.19 333.40 222.69 333.65 223.16 333.90 223.60 334.15 224.01 334.40 224.39 334.65 224.75 334.90 225.09 335.15 225.40 335.40 225.69 335.65 225.96 335.90 226.22 336.15 226.45 336.40 226.67 336.65 226.88 336.90 227.07 337.15 227.24 337.40 227.41 337.65 227.56 337.90 227.70 338.15 227.84 338.40 227.96 338.65 228.07 338.90 228.18 339.15 228.28 339.40 228.38 339.65 228.46 339.90 228.55 340.15 228.63 340.40 228.70 340.65 228.77 340.90 228.84 341.15 228.90 341.40 228.96 341.65 229.02 341.90 229.08 342.15 229.13 342.40 229.18 342.65 229.24 342.90 229.29 343.15 229.34 343.40 229.39 343.65 229.44 343.90 229.48 344.15 229.53 344.40 229.58 344.65 229.62 344.90 229.67 345.15 229.71 345.40 229.76 345.65 229.80 345.90 229.85 346.15 229.89 346.40 229.93 346.65 229.98 346.90 230.02 347.15 230.06 347.40 230.10 347.65 230.15 347.90 230.19 348.15 230.23 348.40 230.27 348.65 230.31 348.90 230.35 349.15 230.39 349.40 230.42 349.65 230.46 349.90 230.50 350.15 230.54 350.40 230.58 350.65 230.62 350.90 230.67 351.15 230.71 351.40 230.76 351.65 230.80 351.90 230.85 352.15 230.90 352.40 230.95 352.65 231.00 352.90 231.05 353.15 231.10 353.40 231.15 353.65 231.21 353.90 231.26 354.15 231.31 354.40 231.37 354.65 231.42 354.90 231.47 355.15 231.53 355.40 231.58 355.65 231.63 355.90 231.69 356.15 231.74 356.40 231.79 356.65 231.84 356.90 231.89 357.15 231.94 357.40 231.99 357.65 232.04 357.90 232.09 358.15 232.14 358.40 232.19 358.65 232.24 358.90 232.28 359.15 232.33 359.40 232.38 359.65 232.43 359.90 232.48 360.15 232.53 360.40 232.57 360.65 232.62 360.90 232.67 361.15 232.72 361.40 232.76 361.65 232.81 361.90 232.86 362.15 232.90 362.40 232.95 362.65 232.99 362.90 233.03 363.15 233.08 363.40 233.12 363.65 233.16 363.90 233.20 364.15 233.24 364.40 233.28 364.65 233.31 364.90 233.35 365.15 233.38 365.40 233.42 365.65 233.45 365.90 233.48 366.15 233.50 366.40 233.53 366.65 233.55 366.90 233.57 367.15 233.59 367.40 233.61 367.65 233.62 367.90 233.62 368.15 233.63 368.40 233.63 368.65 233.62 368.90 233.61 369.15 233.59 369.40 233.57 369.65 233.53 369.90 233.49 370.15 233.44 370.40 233.38 370.65 233.30 370.90 233.21 371.15 233.11 371.40 232.98 371.65 232.84 371.90 232.67 372.15 232.48 372.40 232.26 372.65 232.00 372.90 231.70 373.15 231.36 373.40 230.97 373.65 230.52 373.90 229.99 374.15 229.39 374.40 228.68 374.60 228.04 374.65 227.86 374.90 226.88 375.10 225.96 375.15 225.70 375.40 224.26 375.60 222.82 375.65 222.41 375.90 219.93 376.10 217.15 376.15 216.28 376.25 214.22 376.40 209.92 376.50 206.03 376.60 203.65 376.65 204.80 376.70 207.30 376.80 212.19 376.90 215.89 376.95 217.41 377.10 221.15 377.15 222.20 377.30 225.00 377.40 226.66 377.60 229.69 377.65 230.41 377.90 233.91 378.10 236.76 378.15 237.50 378.40 241.43 378.60 245.02 378.65 246.00 378.80 249.14 378.90 251.42 379.05 255.05 379.15 257.52 379.20 258.72 379.30 260.89 379.35 261.75 379.40 262.30 379.45 261.47 379.50 260.70 379.60 259.29 379.65 258.65 379.75 257.47 379.90 255.93 380.00 255.03 380.15 253.83 380.40 252.15 380.65 250.80 380.90 249.67 381.15 248.72 381.40 247.91 381.65 247.21 381.90 246.59 382.15 246.05 382.40 245.57 382.65 245.14 382.90 244.75 383.15 244.39 383.40 244.07 383.65 243.78 383.90 243.51 384.15 243.26 384.40 243.03 384.65 242.81 384.90 242.62 385.15 242.43 385.40 242.26 385.65 242.10 385.90 241.95 386.15 241.81 386.40 241.68 386.65 241.56 386.90 241.45 387.15 241.34 387.40 241.24 387.65 241.15 387.90 241.06 388.15 240.98 388.40 240.90 388.65 240.83 388.90 240.76 389.15 240.70 389.40 240.64 389.65 240.58 389.90 240.53 390.15 240.48 390.40 240.43 390.65 240.39 390.90 240.36 391.15 240.32 391.40 240.29 391.65 240.26 391.90 240.24 392.15 240.22 392.40 240.20 392.65 240.18 392.90 240.17 393.15 240.16 393.40 240.15 393.65 240.14 393.90 240.13 394.15 240.13 394.40 240.13 394.65 240.12 394.90 240.12 395.15 240.12 395.40 240.13 395.65 240.13 395.90 240.13 396.15 240.13 396.40 240.14 396.65 240.14 396.90 240.15 397.15 240.15 397.40 240.16 397.65 240.16 397.90 240.17 398.15 240.17 398.40 240.18 398.65 240.19 398.90 240.19 399.15 240.20 399.40 240.21 399.65 240.22 399.90 240.23 400.15 240.24 400.40 240.25 400.65 240.25 400.90 240.26 401.15 240.27 401.40 240.28 401.65 240.29 401.90 240.30 402.15 240.31 402.40 240.32 402.65 240.33 402.90 240.33 403.15 240.34 403.40 240.35 403.65 240.36 403.90 240.36 404.15 240.37 404.40 240.37 404.65 240.38 404.90 240.38 405.15 240.39 405.40 240.39 405.65 240.39 405.90 240.39 406.15 240.40 406.40 240.40 406.65 240.40 406.90 240.40 407.15 240.40 407.40 240.40 407.65 240.40 407.90 240.40 408.15 240.40 408.40 240.40 408.65 240.40 408.90 240.39 409.15 240.39 409.40 240.39 409.65 240.38 409.90 240.38 410.15 240.38 410.40 240.37 410.65 240.36 410.90 240.36 411.15 240.35 411.40 240.34 411.65 240.33 411.90 240.32 412.15 240.31 412.40 240.30 412.65 240.29 412.90 240.27 413.15 240.26 413.40 240.24 413.65 240.22 413.90 240.20 414.15 240.18 414.40 240.16 414.65 240.13 414.90 240.10 415.15 240.07 415.40 240.04 415.65 240.00 415.90 239.96 416.15 239.91 416.40 239.87 416.65 239.81 416.90 239.76 417.15 239.69 417.40 239.62 417.65 239.54 417.90 239.46 418.15 239.36 418.40 239.26 418.65 239.14 418.90 239.01 419.15 238.86 419.40 238.69 419.65 238.50 419.90 238.28 420.15 238.03 420.40 237.75 420.65 237.42 420.90 237.03 421.15 236.58 421.40 236.06 421.65 235.43 421.90 234.68 422.15 233.78 422.40 232.67 422.65 231.29 422.90 229.52 423.15 227.15 423.20 226.57 423.40 223.73 423.55 220.72 423.65 217.94 423.70 216.17 423.80 211.41 423.90 206.80 424.00 213.48 424.10 218.79 424.15 220.64 424.25 223.48 424.40 226.49 424.60 229.28 424.65 229.84 424.90 232.09 425.15 233.72 425.40 234.94 425.65 235.89 425.90 236.64 426.15 237.24 426.40 237.72 426.65 238.12 426.90 238.45 427.15 238.72 427.40 238.95 427.65 239.15 427.90 239.31 428.15 239.46 428.40 239.58 428.65 239.69 428.90 239.78 429.15 239.87 429.40 239.94 429.65 240.00 429.90 240.06 430.15 240.12 430.40 240.16 430.65 240.21 430.90 240.25 431.15 240.29 431.40 240.32 431.65 240.36 431.90 240.39 432.15 240.42 432.40 240.45 432.65 240.47 432.90 240.50 433.15 240.52 433.40 240.55 433.65 240.57 433.90 240.59 434.15 240.62 434.40 240.64 434.65 240.66 434.90 240.68 435.15 240.70 435.40 240.72 435.65 240.74 435.90 240.75 436.15 240.77 436.40 240.79 436.65 240.80 436.90 240.82 437.15 240.84 437.40 240.85 437.65 240.87 437.90 240.88 438.15 240.90 438.40 240.91 438.65 240.92 438.90 240.94 439.15 240.95 439.40 240.96 439.65 240.98 439.90 240.99 440.15 241.01 440.40 241.02 440.65 241.03 440.90 241.05 441.15 241.06 441.40 241.07 441.65 241.09 441.90 241.10 442.15 241.11 442.40 241.13 442.65 241.14 442.90 241.15 443.15 241.17 443.40 241.18 443.65 241.19 443.90 241.21 444.15 241.22 444.40 241.23 444.65 241.24 444.90 241.26 445.15 241.27 445.40 241.28 445.65 241.30 445.90 241.31 446.15 241.32 446.40 241.33 446.65 241.35 446.90 241.36 447.15 241.37 447.40 241.39 447.65 241.40 447.90 241.41 448.15 241.42 448.40 241.44 448.65 241.45 448.90 241.46 449.15 241.48 449.40 241.49 449.65 241.50 449.90 241.52 450.15 241.53 450.40 241.54 450.65 241.55 450.90 241.57 451.15 241.58 451.40 241.59 451.65 241.61 451.90 241.62 452.15 241.63 452.40 241.65 452.65 241.66 452.90 241.67 453.15 241.69 453.40 241.70 453.65 241.71 453.90 241.72 454.15 241.74 454.40 241.75 454.65 241.76 454.90 241.78 455.15 241.79 455.40 241.80 455.65 241.81 455.90 241.83 456.15 241.84 456.40 241.85 456.65 241.87 456.90 241.88 457.15 241.89 457.40 241.91 457.65 241.92 457.90 241.93 458.15 241.94 458.40 241.96 458.65 241.97 458.90 241.98 459.15 242.00 459.40 242.01 459.65 242.02 459.90 242.04 460.15 242.05 460.40 242.06 460.65 242.08 460.90 242.09 461.15 242.10 461.40 242.12 461.65 242.13 461.90 242.14 462.00 242.15" stroke="#f00" stroke-width="2.8" fill="none" stroke-linejoin="round" stroke-linecap="butt"/>
</g>
<rect x="49.5" y="154.5" width="412.0" height="125.0" fill="none" stroke="#000" stroke-width="1.1"/>
<path d="M47.50 278.92H49.5M47.50 278.24H49.5M47.50 277.64H49.5M47.50 277.12H49.5M45.50 276.65H49.5M47.50 273.56H49.5M47.50 271.76H49.5M47.50 270.48H49.5M47.50 269.49H49.5M47.50 268.67H49.5M47.50 267.99H49.5M47.50 267.39H49.5M47.50 266.87H49.5M45.50 266.40H49.5M47.50 263.31H49.5M47.50 261.51H49.5M47.50 260.23H49.5M47.50 259.24H49.5M47.50 258.42H49.5M47.50 257.74H49.5M47.50 257.14H49.5M47.50 256.62H49.5M45.50 256.15H49.5M47.50 253.06H49.5M47.50 251.26H49.5M47.50 249.98H49.5M47.50 248.99H49.5M47.50 248.17H49.5M47.50 247.49H49.5M47.50 246.89H49.5M47.50 246.37H49.5M45.50 245.90H49.5M47.50 242.81H49.5M47.50 241.01H49.5M47.50 239.73H49.5M47.50 238.74H49.5M47.50 237.92H49.5M47.50 237.24H49.5M47.50 236.64H49.5M47.50 236.12H49.5M45.50 235.65H49.5M47.50 232.56H49.5M47.50 230.76H49.5M47.50 229.48H49.5M47.50 228.49H49.5M47.50 227.67H49.5M47.50 226.99H49.5M47.50 226.39H49.5M47.50 225.87H49.5M45.50 225.40H49.5M47.50 222.31H49.5M47.50 220.51H49.5M47.50 219.23H49.5M47.50 218.24H49.5M47.50 217.42H49.5M47.50 216.74H49.5M47.50 216.14H49.5M47.50 215.62H49.5M45.50 215.15H49.5M47.50 212.06H49.5M47.50 210.26H49.5M47.50 208.98H49.5M47.50 207.99H49.5M47.50 207.17H49.5M47.50 206.49H49.5M47.50 205.89H49.5M47.50 205.37H49.5M45.50 204.90H49.5M47.50 201.81H49.5M47.50 200.01H49.5M47.50 198.73H49.5M47.50 197.74H49.5M47.50 196.92H49.5M47.50 196.24H49.5M47.50 195.64H49.5M47.50 195.12H49.5M45.50 194.65H49.5M47.50 191.56H49.5M47.50 189.76H49.5M47.50 188.48H49.5M47.50 187.49H49.5M47.50 186.67H49.5M47.50 185.99H49.5M47.50 185.39H49.5M47.50 184.87H49.5M45.50 184.40H49.5M47.50 181.31H49.5M47.50 179.51H49.5M47.50 178.23H49.5M47.50 177.24H49.5M47.50 176.42H49.5M47.50 175.74H49.5M47.50 175.14H49.5M47.50 174.62H49.5M45.50 174.15H49.5M47.50 171.06H49.5M47.50 169.26H49.5M47.50 167.98H49.5M47.50 166.99H49.5M47.50 166.17H49.5M47.50 165.49H49.5M47.50 164.89H49.5M47.50 164.37H49.5M45.50 163.90H49.5M47.50 160.81H49.5M47.50 159.01H49.5M47.50 157.73H49.5M47.50 156.74H49.5M47.50 155.92H49.5M47.50 155.24H49.5M47.50 154.64H49.5" stroke="#000" stroke-width="1.15" fill="none"/>
<path d="M49.50 279.5V281.5M73.74 279.5V283.5M97.97 279.5V281.5M122.21 279.5V283.5M146.44 279.5V281.5M170.68 279.5V283.5M194.91 279.5V281.5M219.15 279.5V283.5M243.38 279.5V281.5M267.62 279.5V283.5M291.85 279.5V281.5M316.09 279.5V283.5M340.32 279.5V281.5M364.56 279.5V283.5M388.79 279.5V281.5M413.03 279.5V283.5M437.26 279.5V281.5M461.50 279.5V283.5" stroke="#000" stroke-width="1.15" fill="none"/>
<text x="43.3" y="168.10" text-anchor="end" style="font-family:'Liberation Sans',sans-serif;font-size:11px;font-weight:bold">10<tspan font-size="6.3px" dy="-6.2" dx="0.5">3</tspan></text>
<text x="43.3" y="188.60" text-anchor="end" style="font-family:'Liberation Sans',sans-serif;font-size:11px;font-weight:bold">10<tspan font-size="6.3px" dy="-6.2" dx="0.5">1</tspan></text>
<text x="43.3" y="209.10" text-anchor="end" style="font-family:'Liberation Sans',sans-serif;font-size:11px;font-weight:bold">10<tspan font-size="6.3px" dy="-6.2" dx="0.5">-1</tspan></text>
<text x="43.3" y="229.60" text-anchor="end" style="font-family:'Liberation Sans',sans-serif;font-size:11px;font-weight:bold">10<tspan font-size="6.3px" dy="-6.2" dx="0.5">-3</tspan></text>
<text x="43.3" y="250.10" text-anchor="end" style="font-family:'Liberation Sans',sans-serif;font-size:11px;font-weight:bold">10<tspan font-size="6.3px" dy="-6.2" dx="0.5">-5</tspan></text>
<text x="43.3" y="270.60" text-anchor="end" style="font-family:'Liberation Sans',sans-serif;font-size:11px;font-weight:bold">10<tspan font-size="6.3px" dy="-6.2" dx="0.5">-7</tspan></text>
<clipPath id="clipc"><rect x="49.5" y="286.5" width="412.0" height="125.0"/></clipPath>
<g clip-path="url(#clipc)">
<path d="M77.40 338.40V342.30M245.70 327.40V340.90M265.40 316.00V332.70M283.30 320.10V329.80M328.00 330.30V337.70M344.60 320.30V329.80M376.40 310.10V338.90M424.00 317.00V338.90M332.90 305.00V357.50" stroke="#000" stroke-width="2.8" fill="none" stroke-linecap="round"/>
<path d="M68.10 373.10 68.35 373.04 68.60 372.99 68.85 372.92 69.10 372.85 69.35 372.76 69.60 372.67 69.85 372.57 70.10 372.45 70.35 372.33 70.60 372.19 70.85 372.03 71.10 371.86 71.35 371.68 71.60 371.47 71.85 371.25 72.10 371.01 72.35 370.74 72.60 370.44 72.85 370.12 73.10 369.77 73.35 369.38 73.60 368.95 73.85 368.47 74.10 367.95 74.35 367.37 74.60 366.73 74.85 366.01 75.10 365.20 75.35 364.27 75.40 364.07 75.60 363.22 75.85 361.98 75.90 361.71 76.10 360.52 76.35 358.73 76.40 358.32 76.60 356.44 76.70 355.33 76.85 353.34 76.90 352.56 77.05 349.75 77.10 348.59 77.20 345.84 77.30 342.50 77.35 340.98 77.40 340.30 77.50 343.33 77.60 347.25 77.75 351.44 77.85 353.47 77.90 354.34 78.10 357.15 78.35 359.72 78.40 360.15 78.60 361.68 78.85 363.25 78.90 363.53 79.10 364.56 79.35 365.67 79.40 365.88 79.60 366.64 79.85 367.49 80.10 368.24 80.35 368.91 80.60 369.51 80.85 370.06 81.10 370.56 81.35 371.02 81.60 371.44 81.85 371.83 82.10 372.18 82.35 372.52 82.60 372.83 82.85 373.11 83.10 373.38 83.35 373.64 83.60 373.87 83.85 374.10 84.10 374.31 84.35 374.50 84.60 374.69 84.85 374.87 85.10 375.04 85.35 375.20 85.60 375.35 85.85 375.50 86.10 375.64 86.35 375.77 86.60 375.90 86.85 376.02 87.10 376.14 87.35 376.25 87.60 376.36 87.85 376.46 88.10 376.56 88.35 376.66 88.60 376.75 88.85 376.84 89.10 376.93 89.35 377.01 89.60 377.09 89.85 377.17 90.10 377.24 90.35 377.31 90.60 377.38 90.85 377.45 91.10 377.51 91.35 377.57 91.60 377.63 91.85 377.68 92.10 377.74 92.35 377.79 92.60 377.84 92.85 377.88 93.10 377.93 93.35 377.98 93.60 378.02 93.85 378.06 94.10 378.10 94.35 378.14 94.60 378.18 94.85 378.22 95.10 378.25 95.35 378.29 95.60 378.32 95.85 378.36 96.10 378.39 96.35 378.42 96.60 378.45 96.85 378.48 97.10 378.51 97.35 378.54 97.60 378.56 97.85 378.59 98.10 378.61 98.35 378.64 98.60 378.66 98.85 378.68 99.10 378.70 99.35 378.72 99.60 378.74 99.85 378.76 100.10 378.78 100.35 378.79 100.60 378.81 100.85 378.83 101.10 378.84 101.35 378.86 101.60 378.87 101.85 378.89 102.10 378.90 102.35 378.91 102.60 378.93 102.85 378.94 103.10 378.95 103.35 378.96 103.60 378.98 103.85 378.99 104.10 379.00 104.35 379.01 104.60 379.02 104.85 379.03 105.10 379.04 105.35 379.05 105.60 379.06 105.85 379.07 106.10 379.08 106.35 379.08 106.60 379.09 106.85 379.10 107.10 379.11 107.35 379.11 107.60 379.12 107.85 379.13 108.10 379.13 108.35 379.14 108.60 379.15 108.85 379.15 109.10 379.16 109.35 379.16 109.60 379.17 109.85 379.17 110.10 379.18 110.35 379.18 110.60 379.19 110.85 379.19 111.10 379.20 111.35 379.20 111.60 379.21 111.85 379.21 112.10 379.21 112.35 379.22 112.60 379.22 112.85 379.23 113.10 379.23 113.35 379.23 113.60 379.24 113.85 379.24 114.10 379.24 114.35 379.25 114.60 379.25 114.85 379.25 115.10 379.25 115.35 379.26 115.60 379.26 115.85 379.26 116.10 379.27 116.35 379.27 116.60 379.27 116.85 379.27 117.10 379.28 117.35 379.28 117.60 379.28 117.85 379.28 118.10 379.28 118.35 379.29 118.60 379.29 118.85 379.29 119.10 379.29 119.35 379.29 119.60 379.29 119.85 379.29 120.10 379.30 120.35 379.30 120.60 379.30 120.85 379.30 121.10 379.30 121.35 379.30 121.60 379.30 121.85 379.30 122.10 379.31 122.35 379.31 122.60 379.31 122.85 379.31 123.10 379.31 123.35 379.31 123.60 379.31 123.85 379.32 124.10 379.32 124.35 379.32 124.60 379.32 124.85 379.32 125.10 379.32 125.35 379.33 125.60 379.33 125.85 379.33 126.10 379.33 126.35 379.33 126.60 379.33 126.85 379.34 127.10 379.34 127.35 379.34 127.60 379.34 127.85 379.34 128.10 379.34 128.35 379.35 128.60 379.35 128.85 379.35 129.10 379.35 129.35 379.35 129.60 379.35 129.85 379.35 130.10 379.36 130.35 379.36 130.60 379.36 130.85 379.36 131.10 379.36 131.35 379.36 131.60 379.37 131.85 379.37 132.10 379.37 132.35 379.37 132.60 379.37 132.85 379.37 133.10 379.37 133.35 379.38 133.60 379.38 133.85 379.38 134.10 379.38 134.35 379.38 134.60 379.39 134.85 379.39 135.10 379.39 135.35 379.39 135.60 379.40 135.85 379.40 136.10 379.40 136.35 379.41 136.60 379.41 136.85 379.41 137.10 379.42 137.35 379.42 137.60 379.42 137.85 379.42 138.10 379.43 138.35 379.43 138.60 379.43 138.85 379.44 139.10 379.44 139.35 379.44 139.60 379.45 139.85 379.45 140.10 379.45 140.35 379.46 140.60 379.46 140.85 379.46 141.10 379.47 141.35 379.47 141.60 379.47 141.85 379.48 142.10 379.48 142.35 379.48 142.60 379.49 142.85 379.49 143.10 379.49 143.35 379.50 143.60 379.50 143.85 379.51 144.10 379.51 144.35 379.51 144.60 379.52 144.85 379.52 145.10 379.53 145.35 379.53 145.60 379.53 145.85 379.54 146.10 379.54 146.35 379.55 146.60 379.55 146.85 379.56 147.10 379.56 147.35 379.56 147.60 379.57 147.85 379.57 148.10 379.58 148.35 379.58 148.60 379.59 148.85 379.59 149.10 379.59 149.35 379.60 149.60 379.60 149.85 379.61 150.10 379.61 150.35 379.62 150.60 379.62 150.85 379.63 151.10 379.63 151.35 379.64 151.60 379.64 151.85 379.65 152.10 379.65 152.35 379.66 152.60 379.66 152.85 379.67 153.10 379.67 153.35 379.68 153.60 379.68 153.85 379.69 154.10 379.69 154.35 379.70 154.60 379.70 154.85 379.71 155.10 379.72 155.35 379.72 155.60 379.73 155.85 379.73 156.10 379.74 156.35 379.74 156.60 379.75 156.85 379.75 157.10 379.76 157.35 379.76 157.60 379.77 157.85 379.78 158.10 379.78 158.35 379.79 158.60 379.79 158.85 379.80 159.10 379.81 159.35 379.81 159.60 379.82 159.85 379.82 160.10 379.83 160.35 379.84 160.60 379.84 160.85 379.85 161.10 379.85 161.35 379.86 161.60 379.87 161.85 379.87 162.10 379.88 162.35 379.89 162.60 379.89 162.85 379.90 163.10 379.90 163.35 379.91 163.60 379.92 163.85 379.92 164.10 379.93 164.35 379.94 164.60 379.94 164.85 379.95 165.10 379.96 165.35 379.96 165.60 379.97 165.85 379.97 166.10 379.98 166.35 379.99 166.60 379.99 166.85 380.00 167.10 380.01 167.35 380.01 167.60 380.02 167.85 380.03 168.10 380.03 168.35 380.04 168.60 380.05 168.85 380.06 169.10 380.06 169.35 380.07 169.60 380.08 169.85 380.08 170.10 380.09 170.35 380.10 170.60 380.10 170.85 380.11 171.10 380.12 171.35 380.12 171.60 380.13 171.85 380.14 172.10 380.14 172.35 380.15 172.60 380.16 172.85 380.17 173.10 380.17 173.35 380.18 173.60 380.19 173.85 380.19 174.10 380.20 174.35 380.21 174.60 380.21 174.85 380.22 175.10 380.23 175.35 380.23 175.60 380.24 175.85 380.25 176.10 380.26 176.35 380.26 176.60 380.27 176.85 380.28 177.10 380.28 177.35 380.29 177.60 380.30 177.85 380.31 178.10 380.31 178.35 380.32 178.60 380.33 178.85 380.33 179.10 380.34 179.35 380.35 179.60 380.35 179.85 380.36 180.10 380.37 180.35 380.38 180.60 380.38 180.85 380.39 181.10 380.40 181.35 380.40 181.60 380.41 181.85 380.42 182.10 380.42 182.35 380.43 182.60 380.44 182.85 380.44 183.10 380.45 183.35 380.46 183.60 380.46 183.85 380.47 184.10 380.48 184.35 380.49 184.60 380.49 184.85 380.50 185.10 380.51 185.35 380.51 185.60 380.52 185.85 380.53 186.10 380.53 186.35 380.54 186.60 380.55 186.85 380.55 187.10 380.56 187.35 380.57 187.60 380.57 187.85 380.58 188.10 380.59 188.35 380.60 188.60 380.60 188.85 380.61 189.10 380.62 189.35 380.62 189.60 380.63 189.85 380.64 190.10 380.65 190.35 380.65 190.60 380.66 190.85 380.67 191.10 380.67 191.35 380.68 191.60 380.69 191.85 380.70 192.10 380.70 192.35 380.71 192.60 380.72 192.85 380.72 193.10 380.73 193.35 380.74 193.60 380.75 193.85 380.75 194.10 380.76 194.35 380.77 194.60 380.78 194.85 380.78 195.10 380.79 195.35 380.80 195.60 380.81 195.85 380.81 196.10 380.82 196.35 380.83 196.60 380.84 196.85 380.84 197.10 380.85 197.35 380.86 197.60 380.87 197.85 380.87 198.10 380.88 198.35 380.89 198.60 380.90 198.85 380.91 199.10 380.91 199.35 380.92 199.60 380.93 199.85 380.94 200.10 380.94 200.35 380.95 200.60 380.96 200.85 380.97 201.10 380.98 201.35 380.98 201.60 380.99 201.85 381.00 202.10 381.01 202.35 381.02 202.60 381.03 202.85 381.03 203.10 381.04 203.35 381.05 203.60 381.06 203.85 381.07 204.10 381.08 204.35 381.09 204.60 381.09 204.85 381.10 205.10 381.11 205.35 381.12 205.60 381.13 205.85 381.14 206.10 381.15 206.35 381.16 206.60 381.16 206.85 381.17 207.10 381.18 207.35 381.19 207.60 381.20 207.85 381.21 208.10 381.22 208.35 381.23 208.60 381.24 208.85 381.25 209.10 381.26 209.35 381.26 209.60 381.27 209.85 381.28 210.10 381.29 210.35 381.31 210.60 381.32 210.85 381.33 211.10 381.34 211.35 381.35 211.60 381.36 211.85 381.37 212.10 381.38 212.35 381.40 212.60 381.41 212.85 381.42 213.10 381.43 213.35 381.45 213.60 381.46 213.85 381.48 214.10 381.49 214.35 381.51 214.60 381.52 214.85 381.54 215.10 381.55 215.35 381.57 215.60 381.58 215.85 381.60 216.10 381.62 216.35 381.64 216.60 381.65 216.85 381.67 217.10 381.69 217.35 381.71 217.60 381.73 217.85 381.75 218.10 381.77 218.35 381.79 218.60 381.81 218.85 381.83 219.10 381.85 219.35 381.87 219.60 381.89 219.85 381.92 220.10 381.94 220.35 381.96 220.60 381.98 220.85 382.01 221.10 382.03 221.35 382.05 221.60 382.08 221.85 382.11 222.10 382.13 222.35 382.16 222.60 382.19 222.85 382.22 223.10 382.25 223.35 382.28 223.60 382.31 223.85 382.34 224.10 382.37 224.35 382.40 224.60 382.43 224.85 382.47 225.10 382.50 225.35 382.53 225.60 382.57 225.85 382.60 226.10 382.64 226.35 382.67 226.60 382.71 226.85 382.74 227.10 382.78 227.35 382.81 227.60 382.85 227.85 382.88 228.10 382.92 228.35 382.95 228.60 382.99 228.85 383.02 229.10 383.06 229.35 383.09 229.60 383.13 229.85 383.17 230.10 383.21 230.35 383.24 230.60 383.28 230.85 383.32 231.10 383.36 231.35 383.40 231.60 383.44 231.85 383.48 232.10 383.52 232.35 383.56 232.60 383.60 232.85 383.64 233.10 383.68 233.35 383.72 233.60 383.75 233.85 383.79 234.10 383.83 234.35 383.87 234.60 383.91 234.85 383.95 235.10 383.99 235.35 384.02 235.60 384.06 235.85 384.09 236.10 384.13 236.35 384.16 236.60 384.20 236.85 384.23 237.10 384.26 237.35 384.30 237.60 384.33 237.85 384.36 238.10 384.39 238.35 384.42 238.60 384.45 238.85 384.48 239.10 384.50 239.35 384.53 239.60 384.56 239.85 384.58 240.10 384.60 240.35 384.62 240.60 384.64 240.85 384.65 241.10 384.66 241.35 384.67 241.60 384.67 241.85 384.67 242.10 384.66 242.35 384.64 242.60 384.61 242.85 384.56 243.10 384.50 243.35 384.41 243.60 384.28 243.70 384.21 243.85 384.09 244.10 383.82 244.20 383.67 244.35 383.41 244.45 383.18 244.60 382.76 244.70 382.39 244.85 381.69 244.95 381.06 245.00 380.69 245.10 379.80 245.20 378.64 245.35 376.12 245.50 371.78 245.60 366.12 245.70 339.06 245.75 366.49 245.80 373.85 245.85 379.64 245.90 385.65 245.95 389.80 246.00 389.85 246.05 388.30 246.10 386.73 246.15 385.65 246.20 385.00 246.30 384.45 246.35 384.36 246.40 384.33 246.55 384.40 246.60 384.44 246.70 384.52 246.85 384.63 246.95 384.70 247.10 384.78 247.20 384.83 247.35 384.88 247.45 384.92 247.60 384.96 247.70 384.98 247.85 385.01 248.10 385.04 248.35 385.07 248.60 385.09 248.85 385.11 249.10 385.11 249.35 385.12 249.60 385.12 249.85 385.12 250.10 385.12 250.35 385.11 250.60 385.11 250.85 385.10 251.10 385.08 251.35 385.07 251.60 385.05 251.85 385.04 252.10 385.02 252.35 385.00 252.60 384.97 252.85 384.95 253.10 384.92 253.35 384.89 253.60 384.86 253.85 384.83 254.10 384.79 254.35 384.76 254.60 384.72 254.85 384.68 255.10 384.63 255.35 384.59 255.60 384.55 255.85 384.50 256.10 384.45 256.35 384.40 256.60 384.35 256.85 384.30 257.10 384.25 257.35 384.20 257.60 384.15 257.85 384.09 258.10 384.04 258.35 383.98 258.60 383.92 258.85 383.87 259.10 383.81 259.35 383.75 259.60 383.69 259.85 383.63 260.10 383.57 260.35 383.50 260.60 383.44 260.85 383.37 261.10 383.31 261.35 383.25 261.60 383.20 261.85 383.15 262.10 383.09 262.35 383.03 262.60 382.96 262.85 382.88 263.10 382.81 263.35 382.73 263.40 382.71 263.60 382.65 263.85 382.57 263.90 382.56 264.10 382.49 264.35 382.41 264.40 382.39 264.60 382.30 264.70 382.23 264.85 382.09 264.90 382.01 265.05 381.59 265.10 381.31 265.20 380.17 265.30 376.61 265.35 371.43 265.40 330.77 265.50 348.23 265.60 354.56 265.75 359.96 265.85 362.59 265.90 363.77 266.00 366.00 266.10 368.19 266.25 371.66 266.35 374.17 266.40 375.43 266.50 377.67 266.55 378.49 266.60 379.00 266.65 379.30 266.70 379.51 266.80 379.67 266.85 379.64 266.90 379.56 266.95 379.44 267.10 378.94 267.20 378.57 267.35 378.06 267.40 377.92 267.60 377.47 267.85 377.17 268.10 377.07 268.35 377.07 268.60 377.14 268.85 377.22 269.10 377.31 269.35 377.39 269.60 377.45 269.85 377.50 270.10 377.52 270.35 377.53 270.60 377.52 270.85 377.48 271.10 377.43 271.35 377.37 271.60 377.29 271.85 377.19 272.10 377.08 272.35 376.96 272.60 376.82 272.85 376.68 273.10 376.52 273.35 376.35 273.60 376.17 273.85 375.97 274.10 375.77 274.35 375.56 274.60 375.33 274.85 375.09 275.10 374.85 275.35 374.59 275.60 374.32 275.85 374.03 276.10 373.74 276.35 373.43 276.60 373.10 276.85 372.76 277.10 372.41 277.35 372.03 277.60 371.64 277.85 371.23 278.10 370.80 278.35 370.35 278.60 369.86 278.85 369.35 279.10 368.81 279.35 368.24 279.60 367.62 279.85 366.96 280.10 366.25 280.35 365.48 280.60 364.63 280.85 363.71 281.10 362.68 281.30 361.77 281.35 361.53 281.60 360.21 281.80 359.02 281.85 358.69 282.10 356.88 282.30 355.13 282.35 354.64 282.60 351.71 282.80 348.50 282.85 347.50 282.95 345.12 283.10 339.95 283.20 334.20 283.30 327.80 283.35 330.67 283.40 335.00 283.50 340.92 283.60 344.68 283.65 346.13 283.80 349.52 283.85 350.43 284.00 352.73 284.10 354.01 284.30 356.15 284.35 356.62 284.60 358.67 284.80 360.04 284.85 360.35 285.10 361.78 285.30 362.78 285.35 363.02 285.60 364.12 285.85 365.10 286.10 365.98 286.35 366.79 286.60 367.53 286.85 368.22 287.10 368.85 287.35 369.44 287.60 370.00 287.85 370.51 288.10 371.00 288.35 371.46 288.60 371.89 288.85 372.30 289.10 372.69 289.35 373.06 289.60 373.41 289.85 373.74 290.10 374.06 290.35 374.36 290.60 374.64 290.85 374.92 291.10 375.17 291.35 375.42 291.60 375.65 291.85 375.88 292.10 376.09 292.35 376.29 292.60 376.48 292.85 376.66 293.10 376.84 293.35 377.00 293.60 377.15 293.85 377.30 294.10 377.43 294.35 377.56 294.60 377.69 294.85 377.80 295.10 377.90 295.35 378.00 295.60 378.10 295.85 378.18 296.10 378.26 296.35 378.33 296.60 378.40 296.85 378.45 297.10 378.51 297.35 378.55 297.60 378.59 297.85 378.63 298.10 378.66 298.35 378.68 298.60 378.70 298.85 378.72 299.10 378.72 299.35 378.73 299.60 378.73 299.85 378.72 300.10 378.71 300.35 378.69 300.60 378.67 300.85 378.65 301.10 378.62 301.35 378.59 301.60 378.55 301.85 378.51 302.10 378.46 302.35 378.41 302.60 378.36 302.85 378.30 303.10 378.24 303.35 378.17 303.60 378.10 303.85 378.03 304.10 377.95 304.35 377.87 304.60 377.79 304.85 377.70 305.10 377.61 305.35 377.52 305.60 377.42 305.85 377.32 306.10 377.22 306.35 377.11 306.60 377.00 306.85 376.89 307.10 376.77 307.35 376.65 307.60 376.53 307.85 376.41 308.10 376.28 308.35 376.15 308.60 376.02 308.85 375.89 309.10 375.75 309.35 375.61 309.60 375.47 309.85 375.32 310.10 375.17 310.35 375.02 310.60 374.87 310.85 374.71 311.10 374.55 311.35 374.39 311.60 374.22 311.85 374.06 312.10 373.89 312.35 373.71 312.60 373.54 312.85 373.36 313.10 373.18 313.35 372.99 313.60 372.80 313.85 372.62 314.10 372.42 314.35 372.23 314.60 372.03 314.85 371.83 315.10 371.63 315.35 371.43 315.60 371.22 315.85 371.01 316.10 370.80 316.35 370.58 316.60 370.36 316.85 370.14 317.10 369.92 317.35 369.69 317.60 369.46 317.85 369.23 318.10 368.98 318.35 368.74 318.60 368.49 318.85 368.23 319.10 367.97 319.35 367.70 319.60 367.42 319.85 367.14 320.10 366.85 320.35 366.55 320.60 366.24 320.85 365.92 321.10 365.59 321.35 365.24 321.60 364.88 321.85 364.51 322.10 364.11 322.35 363.70 322.60 363.26 322.85 362.80 323.10 362.31 323.35 361.78 323.60 361.22 323.85 360.61 324.10 359.95 324.35 359.23 324.60 358.45 324.85 357.58 325.10 356.63 325.35 355.56 325.60 354.37 325.85 353.03 326.00 352.14 326.10 351.51 326.35 349.76 326.50 348.58 326.60 347.74 326.85 345.38 327.00 343.79 327.10 342.65 327.30 340.25 327.35 339.64 327.50 337.93 327.60 336.98 327.65 336.59 327.80 335.88 327.85 335.78 327.90 335.72 328.00 335.70 328.10 335.79 328.20 336.37 328.35 338.49 328.50 341.31 328.60 343.17 328.70 344.88 328.85 347.16 329.00 349.11 329.10 350.26 329.35 352.66 329.50 353.83 329.60 354.52 329.85 355.95 330.00 356.64 330.10 357.04 330.35 357.84 330.60 358.43 330.85 358.84 331.10 359.11 331.35 359.28 331.60 359.37 331.85 359.41 332.10 359.40 332.35 359.36 332.60 359.30 332.85 359.21 333.10 359.11 333.35 359.01 333.60 358.89 333.85 358.76 334.10 358.62 334.35 358.47 334.60 358.32 334.85 358.15 335.10 357.98 335.35 357.81 335.60 357.63 335.85 357.44 336.10 357.25 336.35 357.04 336.60 356.83 336.85 356.62 337.10 356.39 337.35 356.15 337.60 355.90 337.85 355.64 338.10 355.36 338.35 355.07 338.60 354.75 338.85 354.42 339.10 354.05 339.35 353.66 339.60 353.24 339.85 352.78 340.10 352.28 340.35 351.72 340.60 351.11 340.85 350.44 341.10 349.70 341.35 348.88 341.60 347.96 341.85 346.94 342.10 345.79 342.35 344.50 342.60 343.04 342.85 341.39 343.10 339.49 343.35 337.32 343.60 334.83 343.85 332.10 343.90 331.56 344.10 329.56 344.25 328.48 344.35 328.06 344.40 327.94 344.50 327.82 344.60 327.80 344.70 327.81 344.80 327.88 344.85 327.95 344.95 328.19 345.10 328.87 345.30 330.27 345.35 330.68 345.60 332.92 345.85 335.14 346.10 337.18 346.35 339.01 346.60 340.64 346.85 342.09 347.10 343.39 347.35 344.57 347.60 345.62 347.85 346.58 348.10 347.45 348.35 348.24 348.60 348.96 348.85 349.61 349.10 350.21 349.35 350.76 349.60 351.25 349.85 351.71 350.10 352.12 350.35 352.50 350.60 352.86 350.85 353.18 351.10 353.48 351.35 353.75 351.60 354.01 351.85 354.24 352.10 354.47 352.35 354.67 352.60 354.87 352.85 355.05 353.10 355.22 353.35 355.38 353.60 355.54 353.85 355.69 354.10 355.83 354.35 355.96 354.60 356.09 354.85 356.21 355.10 356.33 355.35 356.44 355.60 356.55 355.85 356.65 356.10 356.75 356.35 356.85 356.60 356.94 356.85 357.02 357.10 357.11 357.35 357.19 357.60 357.26 357.85 357.34 358.10 357.41 358.35 357.48 358.60 357.55 358.85 357.62 359.10 357.69 359.35 357.76 359.60 357.83 359.85 357.89 360.10 357.96 360.35 358.02 360.60 358.08 360.85 358.14 361.10 358.20 361.35 358.26 361.60 358.32 361.85 358.37 362.10 358.43 362.35 358.48 362.60 358.53 362.85 358.57 363.10 358.62 363.35 358.66 363.60 358.70 363.85 358.74 364.10 358.77 364.35 358.80 364.60 358.83 364.85 358.85 365.10 358.87 365.35 358.88 365.60 358.89 365.85 358.89 366.10 358.89 366.35 358.88 366.60 358.86 366.85 358.84 367.10 358.81 367.35 358.77 367.60 358.73 367.85 358.67 368.10 358.60 368.35 358.52 368.60 358.42 368.85 358.31 369.10 358.18 369.35 358.04 369.60 357.87 369.85 357.68 370.10 357.47 370.35 357.22 370.60 356.95 370.85 356.65 371.10 356.31 371.35 355.93 371.60 355.50 371.85 355.03 372.10 354.51 372.35 353.93 372.60 353.29 372.85 352.58 373.10 351.80 373.35 350.93 373.60 349.98 373.85 348.93 374.10 347.77 374.35 346.49 374.40 346.21 374.60 345.08 374.85 343.55 374.90 343.23 375.10 341.92 375.35 340.27 375.40 339.95 375.60 338.75 375.70 338.24 375.85 337.62 375.90 337.45 376.05 337.10 376.10 337.03 376.20 336.94 376.30 336.90 376.35 336.90 376.40 336.90 376.50 336.91 376.60 336.94 376.75 337.12 376.85 337.34 376.90 337.48 377.10 338.30 377.35 339.73 377.40 340.06 377.60 341.39 377.85 343.07 377.90 343.40 378.10 344.67 378.35 346.14 378.40 346.42 378.60 347.49 378.85 348.72 379.10 349.83 379.35 350.85 379.60 351.77 379.85 352.62 380.10 353.40 380.35 354.11 380.60 354.77 380.85 355.37 381.10 355.93 381.35 356.44 381.60 356.91 381.85 357.35 382.10 357.76 382.35 358.14 382.60 358.49 382.85 358.81 383.10 359.11 383.35 359.40 383.60 359.66 383.85 359.90 384.10 360.13 384.35 360.35 384.60 360.55 384.85 360.74 385.10 360.92 385.35 361.09 385.60 361.25 385.85 361.41 386.10 361.55 386.35 361.69 386.60 361.82 386.85 361.94 387.10 362.06 387.35 362.17 387.60 362.28 387.85 362.39 388.10 362.49 388.35 362.58 388.60 362.68 388.85 362.76 389.10 362.85 389.35 362.94 389.60 363.02 389.85 363.09 390.10 363.17 390.35 363.25 390.60 363.32 390.85 363.39 391.10 363.46 391.35 363.52 391.60 363.59 391.85 363.65 392.10 363.72 392.35 363.78 392.60 363.84 392.85 363.90 393.10 363.96 393.35 364.01 393.60 364.07 393.85 364.12 394.10 364.18 394.35 364.23 394.60 364.28 394.85 364.34 395.10 364.39 395.35 364.44 395.60 364.49 395.85 364.53 396.10 364.58 396.35 364.63 396.60 364.68 396.85 364.72 397.10 364.77 397.35 364.81 397.60 364.85 397.85 364.90 398.10 364.94 398.35 364.98 398.60 365.02 398.85 365.06 399.10 365.11 399.35 365.15 399.60 365.19 399.85 365.22 400.10 365.26 400.35 365.30 400.60 365.34 400.85 365.38 401.10 365.41 401.35 365.45 401.60 365.48 401.85 365.52 402.10 365.55 402.35 365.59 402.60 365.62 402.85 365.65 403.10 365.68 403.35 365.71 403.60 365.74 403.85 365.77 404.10 365.80 404.35 365.83 404.60 365.86 404.85 365.88 405.10 365.91 405.35 365.93 405.60 365.96 405.85 365.98 406.10 366.00 406.35 366.02 406.60 366.04 406.85 366.06 407.10 366.07 407.35 366.09 407.60 366.10 407.85 366.12 408.10 366.13 408.35 366.14 408.60 366.15 408.85 366.16 409.10 366.16 409.35 366.17 409.60 366.17 409.85 366.17 410.10 366.17 410.35 366.16 410.60 366.15 410.85 366.15 411.10 366.13 411.35 366.12 411.60 366.10 411.85 366.08 412.10 366.06 412.35 366.03 412.60 366.00 412.85 365.96 413.10 365.92 413.35 365.88 413.60 365.82 413.85 365.77 414.10 365.71 414.35 365.64 414.60 365.56 414.85 365.48 415.10 365.38 415.35 365.28 415.60 365.17 415.85 365.05 416.10 364.92 416.35 364.77 416.60 364.61 416.85 364.44 417.10 364.25 417.35 364.05 417.60 363.82 417.85 363.58 418.10 363.31 418.35 363.02 418.60 362.70 418.85 362.36 419.10 361.98 419.35 361.58 419.60 361.13 419.85 360.64 420.10 360.11 420.35 359.52 420.60 358.88 420.85 358.17 421.10 357.39 421.35 356.52 421.60 355.55 421.85 354.47 422.00 353.75 422.10 353.24 422.35 351.83 422.50 350.88 422.60 350.20 422.85 348.27 423.00 346.93 423.10 345.96 423.30 343.76 423.35 343.15 423.50 341.24 423.60 339.92 423.65 339.28 423.80 337.66 423.85 337.30 423.90 337.06 424.00 336.90 424.10 337.23 424.20 338.40 424.35 341.00 424.50 343.62 424.60 345.18 424.70 346.59 424.85 348.44 425.00 350.04 425.10 350.98 425.35 353.03 425.50 354.08 425.60 354.73 425.85 356.16 426.00 356.93 426.10 357.40 426.35 358.48 426.60 359.43 426.85 360.27 427.10 361.01 427.35 361.68 427.60 362.28 427.85 362.83 428.10 363.32 428.35 363.76 428.60 364.16 428.85 364.53 429.10 364.87 429.35 365.18 429.60 365.46 429.85 365.72 430.10 365.96 430.35 366.18 430.60 366.38 430.85 366.57 431.10 366.74 431.35 366.91 431.60 367.06 431.85 367.20 432.10 367.33 432.35 367.46 432.60 367.57 432.85 367.68 433.10 367.79 433.35 367.88 433.60 367.98 433.85 368.07 434.10 368.15 434.35 368.23 434.60 368.30 434.85 368.38 435.10 368.45 435.35 368.51 435.60 368.57 435.85 368.64 436.10 368.69 436.35 368.75 436.60 368.81 436.85 368.86 437.10 368.91 437.35 368.96 437.60 369.01 437.85 369.05 438.10 369.10 438.35 369.14 438.60 369.19 438.85 369.23 439.10 369.27 439.35 369.31 439.60 369.35 439.85 369.39 440.10 369.42 440.35 369.46 440.60 369.50 440.85 369.53 441.10 369.57 441.35 369.60 441.60 369.63 441.85 369.67 442.10 369.70 442.35 369.73 442.60 369.76 442.85 369.79 443.10 369.82 443.35 369.85 443.60 369.88 443.85 369.91 444.10 369.94 444.35 369.97 444.60 370.00 444.85 370.03 445.10 370.06 445.35 370.09 445.60 370.11 445.85 370.14 446.10 370.17 446.35 370.20 446.60 370.22 446.85 370.25 447.10 370.28 447.35 370.30 447.60 370.33 447.85 370.35 448.10 370.38 448.35 370.41 448.60 370.43 448.85 370.46 449.10 370.48 449.35 370.51 449.60 370.53 449.85 370.56 450.10 370.58 450.35 370.61 450.60 370.63 450.85 370.66 451.10 370.68 451.35 370.71 451.60 370.73 451.85 370.75 452.10 370.78 452.35 370.80 452.60 370.83 452.85 370.85 453.10 370.87 453.35 370.90 453.60 370.92 453.85 370.95 454.10 370.97 454.35 370.99 454.60 371.02 454.85 371.04 455.10 371.06 455.35 371.09 455.60 371.11 455.85 371.13 456.10 371.16 456.35 371.18 456.60 371.20 456.85 371.22 457.10 371.25 457.35 371.27 457.60 371.29 457.85 371.32 458.10 371.34 458.35 371.36 458.60 371.38 458.85 371.41 459.10 371.43 459.35 371.45 459.60 371.47 459.85 371.50 460.10 371.52 460.35 371.54 460.60 371.56 460.85 371.59 461.10 371.61 461.35 371.63 461.60 371.65 461.85 371.68 462.00 371.69" stroke="#f00" stroke-width="2.8" fill="none" stroke-linejoin="round" stroke-linecap="butt"/>
</g>
<rect x="49.5" y="286.5" width="412.0" height="125.0" fill="none" stroke="#000" stroke-width="1.1"/>
<path d="M47.50 411.42H49.5M47.50 410.74H49.5M47.50 410.14H49.5M47.50 409.62H49.5M45.50 409.15H49.5M47.50 406.06H49.5M47.50 404.26H49.5M47.50 402.98H49.5M47.50 401.99H49.5M47.50 401.17H49.5M47.50 400.49H49.5M47.50 399.89H49.5M47.50 399.37H49.5M45.50 398.90H49.5M47.50 395.81H49.5M47.50 394.01H49.5M47.50 392.73H49.5M47.50 391.74H49.5M47.50 390.92H49.5M47.50 390.24H49.5M47.50 389.64H49.5M47.50 389.12H49.5M45.50 388.65H49.5M47.50 385.56H49.5M47.50 383.76H49.5M47.50 382.48H49.5M47.50 381.49H49.5M47.50 380.67H49.5M47.50 379.99H49.5M47.50 379.39H49.5M47.50 378.87H49.5M45.50 378.40H49.5M47.50 375.31H49.5M47.50 373.51H49.5M47.50 372.23H49.5M47.50 371.24H49.5M47.50 370.42H49.5M47.50 369.74H49.5M47.50 369.14H49.5M47.50 368.62H49.5M45.50 368.15H49.5M47.50 365.06H49.5M47.50 363.26H49.5M47.50 361.98H49.5M47.50 360.99H49.5M47.50 360.17H49.5M47.50 359.49H49.5M47.50 358.89H49.5M47.50 358.37H49.5M45.50 357.90H49.5M47.50 354.81H49.5M47.50 353.01H49.5M47.50 351.73H49.5M47.50 350.74H49.5M47.50 349.92H49.5M47.50 349.24H49.5M47.50 348.64H49.5M47.50 348.12H49.5M45.50 347.65H49.5M47.50 344.56H49.5M47.50 342.76H49.5M47.50 341.48H49.5M47.50 340.49H49.5M47.50 339.67H49.5M47.50 338.99H49.5M47.50 338.39H49.5M47.50 337.87H49.5M45.50 337.40H49.5M47.50 334.31H49.5M47.50 332.51H49.5M47.50 331.23H49.5M47.50 330.24H49.5M47.50 329.42H49.5M47.50 328.74H49.5M47.50 328.14H49.5M47.50 327.62H49.5M45.50 327.15H49.5M47.50 324.06H49.5M47.50 322.26H49.5M47.50 320.98H49.5M47.50 319.99H49.5M47.50 319.17H49.5M47.50 318.49H49.5M47.50 317.89H49.5M47.50 317.37H49.5M45.50 316.90H49.5M47.50 313.81H49.5M47.50 312.01H49.5M47.50 310.73H49.5M47.50 309.74H49.5M47.50 308.92H49.5M47.50 308.24H49.5M47.50 307.64H49.5M47.50 307.12H49.5M45.50 306.65H49.5M47.50 303.56H49.5M47.50 301.76H49.5M47.50 300.48H49.5M47.50 299.49H49.5M47.50 298.67H49.5M47.50 297.99H49.5M47.50 297.39H49.5M47.50 296.87H49.5M45.50 296.40H49.5M47.50 293.31H49.5M47.50 291.51H49.5M47.50 290.23H49.5M47.50 289.24H49.5M47.50 288.42H49.5M47.50 287.74H49.5M47.50 287.14H49.5M47.50 286.62H49.5" stroke="#000" stroke-width="1.15" fill="none"/>
<path d="M49.50 411.5V413.5M73.74 411.5V415.5M97.97 411.5V413.5M122.21 411.5V415.5M146.44 411.5V413.5M170.68 411.5V415.5M194.91 411.5V413.5M219.15 411.5V415.5M243.38 411.5V413.5M267.62 411.5V415.5M291.85 411.5V413.5M316.09 411.5V415.5M340.32 411.5V413.5M364.56 411.5V415.5M388.79 411.5V413.5M413.03 411.5V415.5M437.26 411.5V413.5M461.50 411.5V415.5" stroke="#000" stroke-width="1.15" fill="none"/>
<text x="43.3" y="300.60" text-anchor="end" style="font-family:'Liberation Sans',sans-serif;font-size:11px;font-weight:bold">10<tspan font-size="6.3px" dy="-6.2" dx="0.5">3</tspan></text>
<text x="43.3" y="321.10" text-anchor="end" style="font-family:'Liberation Sans',sans-serif;font-size:11px;font-weight:bold">10<tspan font-size="6.3px" dy="-6.2" dx="0.5">1</tspan></text>
<text x="43.3" y="341.60" text-anchor="end" style="font-family:'Liberation Sans',sans-serif;font-size:11px;font-weight:bold">10<tspan font-size="6.3px" dy="-6.2" dx="0.5">-1</tspan></text>
<text x="43.3" y="362.10" text-anchor="end" style="font-family:'Liberation Sans',sans-serif;font-size:11px;font-weight:bold">10<tspan font-size="6.3px" dy="-6.2" dx="0.5">-3</tspan></text>
<text x="43.3" y="382.60" text-anchor="end" style="font-family:'Liberation Sans',sans-serif;font-size:11px;font-weight:bold">10<tspan font-size="6.3px" dy="-6.2" dx="0.5">-5</tspan></text>
<text x="43.3" y="403.10" text-anchor="end" style="font-family:'Liberation Sans',sans-serif;font-size:11px;font-weight:bold">10<tspan font-size="6.3px" dy="-6.2" dx="0.5">-7</tspan></text>
<text x="73.74" y="426.8" text-anchor="middle" style="font-family:'Liberation Sans',sans-serif;font-size:11px;font-weight:bold">4560</text>
<text x="122.21" y="426.8" text-anchor="middle" style="font-family:'Liberation Sans',sans-serif;font-size:11px;font-weight:bold">4580</text>
<text x="170.68" y="426.8" text-anchor="middle" style="font-family:'Liberation Sans',sans-serif;font-size:11px;font-weight:bold">4600</text>
<text x="219.15" y="426.8" text-anchor="middle" style="font-family:'Liberation Sans',sans-serif;font-size:11px;font-weight:bold">4620</text>
<text x="267.62" y="426.8" text-anchor="middle" style="font-family:'Liberation Sans',sans-serif;font-size:11px;font-weight:bold">4640</text>
<text x="316.09" y="426.8" text-anchor="middle" style="font-family:'Liberation Sans',sans-serif;font-size:11px;font-weight:bold">4660</text>
<text x="364.56" y="426.8" text-anchor="middle" style="font-family:'Liberation Sans',sans-serif;font-size:11px;font-weight:bold">4680</text>
<text x="413.03" y="426.8" text-anchor="middle" style="font-family:'Liberation Sans',sans-serif;font-size:11px;font-weight:bold">4700</text>
<text x="461.50" y="426.8" text-anchor="middle" style="font-family:'Liberation Sans',sans-serif;font-size:11px;font-weight:bold">4720</text>
<text x="256" y="440.6" text-anchor="middle" style="font-family:'Liberation Sans',sans-serif;font-size:11px;font-weight:bold">Photoelectron Energy (eV)</text>
<text transform="translate(7.9 218.1) rotate(-90)" text-anchor="middle" style="font-family:'Liberation Sans',sans-serif;font-size:11.45px;font-weight:bold">PR cross sections (Mb)</text>
<text x="51" y="36.0" style="font-family:'Liberation Sans',sans-serif;font-size:11px;font-weight:bold">(a) Final recombined state 1s</text><text x="202.4" y="29.9" style="font-family:'Liberation Sans',sans-serif;font-size:10px;font-weight:bold">2</text><text x="208.0" y="36.0" style="font-family:'Liberation Sans',sans-serif;font-size:11px;font-weight:bold">2s</text><text x="223.0" y="36.0" style="font-family:'Liberation Sans',sans-serif;font-size:11px;font-weight:bold">S</text><text x="230.9" y="29.6" style="font-family:'Liberation Sans',sans-serif;font-size:10px;font-weight:bold">e</text><text x="231.8" y="38.8" style="font-family:'Liberation Sans',sans-serif;font-size:10.3px;font-weight:bold">1/2</text>
<text x="51" y="167.9" style="font-family:'Liberation Sans',sans-serif;font-size:11px;font-weight:bold">(b) Final recombined state 1s</text><text x="202.4" y="162.6" style="font-family:'Liberation Sans',sans-serif;font-size:10px;font-weight:bold">2</text><text x="208.0" y="167.9" style="font-family:'Liberation Sans',sans-serif;font-size:11px;font-weight:bold">2p</text><text x="224.0" y="167.9" style="font-family:'Liberation Sans',sans-serif;font-size:11px;font-weight:bold">P</text><text x="231.5" y="162.9" style="font-family:'Liberation Sans',sans-serif;font-size:10px;font-weight:bold">o</text><text x="231.8" y="172.5" style="font-family:'Liberation Sans',sans-serif;font-size:10.3px;font-weight:bold">1/2</text>
<text x="51" y="301.6" style="font-family:'Liberation Sans',sans-serif;font-size:11px;font-weight:bold">(c) Final recombined state 1s</text><text x="202.4" y="295.5" style="font-family:'Liberation Sans',sans-serif;font-size:10px;font-weight:bold">2</text><text x="208.0" y="301.6" style="font-family:'Liberation Sans',sans-serif;font-size:11px;font-weight:bold">2p</text><text x="224.0" y="301.6" style="font-family:'Liberation Sans',sans-serif;font-size:11px;font-weight:bold">P</text><text x="231.5" y="296.3" style="font-family:'Liberation Sans',sans-serif;font-size:10px;font-weight:bold">o</text><text x="231.8" y="305.70000000000005" style="font-family:'Liberation Sans',sans-serif;font-size:10.3px;font-weight:bold">3/2</text>
<rect x="351.5" y="22.5" width="106" height="28.5" fill="#fff" stroke="#999" stroke-width="1"/>
<line x1="355.2" y1="30.6" x2="377.6" y2="30.6" stroke="#000" stroke-width="2.6" stroke-linecap="round"/>
<line x1="355.2" y1="44.8" x2="377.6" y2="44.8" stroke="#f00" stroke-width="2.6" stroke-linecap="round"/>
<text x="380.8" y="33.7" style="font-family:'Liberation Sans',sans-serif;font-size:11px;font-weight:bold">Undamped PR</text>
<text x="380.8" y="48" style="font-family:'Liberation Sans',sans-serif;font-size:11px;font-weight:bold">Damped PR</text>
<text x="90.5" y="120.8" style="font-family:'Liberation Sans',sans-serif;font-size:10px;font-weight:bold">v</text>
<text x="121.0" y="119.2" style="font-family:'Liberation Sans',sans-serif;font-size:10px;font-weight:bold">u</text>
<text x="194.2" y="106.5" style="font-family:'Liberation Sans',sans-serif;font-size:10px;font-weight:bold">r</text>
<text x="234.6" y="98.0" style="font-family:'Liberation Sans',sans-serif;font-size:10px;font-weight:bold">q</text>
<text x="259.6" y="72.5" style="font-family:'Liberation Sans',sans-serif;font-size:10px;font-weight:bold">t</text>
<text x="274.3" y="104.6" style="font-family:'Liberation Sans',sans-serif;font-size:10px;font-weight:bold">s</text>
<text x="68.0" y="216.5" style="font-family:'Liberation Sans',sans-serif;font-size:10px;font-weight:bold">p</text>
<text x="237.6" y="218.0" style="font-family:'Liberation Sans',sans-serif;font-size:10px;font-weight:bold">i</text>
<text x="257.0" y="218.5" style="font-family:'Liberation Sans',sans-serif;font-size:10px;font-weight:bold">g</text>
<text x="313.7" y="219.3" style="font-family:'Liberation Sans',sans-serif;font-size:10px;font-weight:bold">k</text>
<text x="329.2" y="236.3" style="font-family:'Liberation Sans',sans-serif;font-size:10px;font-weight:bold">d</text>
<text x="364.5" y="219.1" style="font-family:'Liberation Sans',sans-serif;font-size:10px;font-weight:bold">b</text>
<text x="413.3" y="219.1" style="font-family:'Liberation Sans',sans-serif;font-size:10px;font-weight:bold">n</text>
<text x="68.9" y="347.0" style="font-family:'Liberation Sans',sans-serif;font-size:10px;font-weight:bold">o</text>
<text x="234.7" y="348.0" style="font-family:'Liberation Sans',sans-serif;font-size:10px;font-weight:bold">h</text>
<text x="260.4" y="347.8" style="font-family:'Liberation Sans',sans-serif;font-size:10px;font-weight:bold">f</text>
<text x="275.4" y="346.5" style="font-family:'Liberation Sans',sans-serif;font-size:10px;font-weight:bold">e</text>
<text x="321.6" y="347.7" style="font-family:'Liberation Sans',sans-serif;font-size:10px;font-weight:bold">l</text>
<text x="330.8" y="369.2" style="font-family:'Liberation Sans',sans-serif;font-size:10px;font-weight:bold">c</text>
<text x="352.6" y="344.0" style="font-family:'Liberation Sans',sans-serif;font-size:10px;font-weight:bold">j</text>
<text x="380.8" y="344.7" style="font-family:'Liberation Sans',sans-serif;font-size:10px;font-weight:bold">a</text>
<text x="427.5" y="345.2" style="font-family:'Liberation Sans',sans-serif;font-size:10px;font-weight:bold">m</text>
</g>
</svg></body></html>
